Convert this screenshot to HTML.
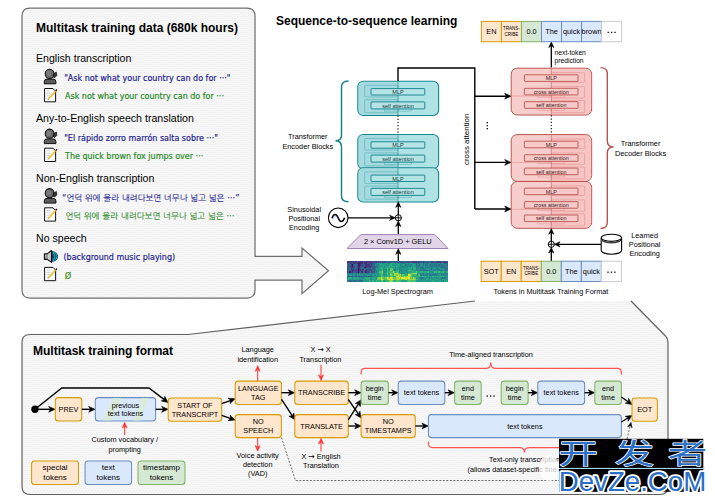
<!DOCTYPE html>
<html><head><meta charset="utf-8"><title>Whisper approach</title>
<style>html,body{margin:0;padding:0;background:#fff}svg{display:block}</style></head><body>
<svg width="715" height="503" viewBox="0 0 715 503">
<defs>
<pattern id="dots" width="3.2" height="4" patternUnits="userSpaceOnUse"><rect width="3.2" height="4" fill="#f7f7f7"/><rect x="0" y="0" width="1" height="1" fill="#ebebeb"/><rect x="1.6" y="2" width="1" height="1" fill="#ebebeb"/></pattern>
</defs>
<rect width="715" height="503" fill="#fff"/>
<path d="M30 8 H247 Q255 8 255 16 V256.3 H302 V248 L328.5 270.8 L302 293.6 V280 H255 V290 Q255 298 247 298 H30 Q22 298 22 290 V16 Q22 8 30 8 Z" fill="url(#dots)" stroke="#707070" stroke-width="1.25"/>
<text x="36.00" y="32.00" font-size="12" text-anchor="start" font-weight="bold" fill="#000" font-family="'Liberation Sans', Arial, sans-serif" >Multitask training data (680k hours)</text>
<text x="36.00" y="62.00" font-size="10.6" text-anchor="start" font-weight="normal" fill="#000" font-family="'Liberation Sans', Arial, sans-serif" >English transcription</text>
<text x="36.00" y="122.00" font-size="10.6" text-anchor="start" font-weight="normal" fill="#000" font-family="'Liberation Sans', Arial, sans-serif" >Any-to-English speech translation</text>
<text x="36.00" y="181.50" font-size="10.6" text-anchor="start" font-weight="normal" fill="#000" font-family="'Liberation Sans', Arial, sans-serif" >Non-English transcription</text>
<text x="36.00" y="242.00" font-size="10.6" text-anchor="start" font-weight="normal" fill="#000" font-family="'Liberation Sans', Arial, sans-serif" >No speech</text>
<text x="64.20" y="81.00" font-size="8" text-anchor="start" font-weight="normal" fill="#22228f" font-family="'DejaVu Sans', Verdana, sans-serif" stroke="#22228f" stroke-width="0.18">"Ask not what your country can do for ···"</text>
<text x="65.00" y="99.00" font-size="8" text-anchor="start" font-weight="normal" fill="#288a28" font-family="'DejaVu Sans', Verdana, sans-serif" stroke="#288a28" stroke-width="0.18">Ask not what your country can do for ···</text>
<text x="64.20" y="140.60" font-size="8" text-anchor="start" font-weight="normal" fill="#22228f" font-family="'DejaVu Sans', Verdana, sans-serif" stroke="#22228f" stroke-width="0.18">"El rápido zorro marrón salta sobre ···"</text>
<text x="65.00" y="158.80" font-size="8" text-anchor="start" font-weight="normal" fill="#288a28" font-family="'DejaVu Sans', Verdana, sans-serif" stroke="#288a28" stroke-width="0.18">The quick brown fox jumps over ···</text>
<text x="61.90" y="201.30" font-size="8.42" text-anchor="start" font-weight="normal" fill="#22228f" font-family="'DejaVu Sans', 'NanumGothic', 'Noto Sans CJK KR', sans-serif" stroke="#22228f" stroke-width="0.1">“언덕 위에 올라 내려다보면 너무나 넓고 넓은 ···”</text>
<text x="65.20" y="219.20" font-size="8.43" text-anchor="start" font-weight="normal" fill="#288a28" font-family="'DejaVu Sans', 'NanumGothic', 'Noto Sans CJK KR', sans-serif" stroke="#288a28" stroke-width="0.1">언덕 위에 올라 내려다보면 너무나 넓고 넓은 ···</text>
<text x="63.50" y="259.70" font-size="8" text-anchor="start" font-weight="normal" fill="#22228f" font-family="'DejaVu Sans', Verdana, sans-serif" stroke="#22228f" stroke-width="0.18">(background music playing)</text>
<text x="64.40" y="278.60" font-size="11.5" text-anchor="start" font-weight="normal" fill="#4a9a2a" font-family="'DejaVu Sans', Verdana, sans-serif" >ø</text>
<g transform="translate(44,69.2)"><path d="M0.3 14.6 V12.4 Q0.3 9.9 3 9.9 H9.2 Q11.9 9.9 11.9 12.4 V14.6 Z" fill="#5c5c5c" stroke="#111" stroke-width="1"/><ellipse cx="5.6" cy="4.7" rx="4.4" ry="4.6" fill="#666" stroke="#111" stroke-width="1.1"/><ellipse cx="4.6" cy="4.2" rx="2.4" ry="2.8" fill="#858585" opacity=".7"/><path d="M9.8 4.4 L12.4 3 L12.8 6.4 L10.6 8.6 L9 7.6 Z" fill="#333" stroke="#111" stroke-width="0.7"/></g>
<g transform="translate(44,129)"><path d="M0.3 14.6 V12.4 Q0.3 9.9 3 9.9 H9.2 Q11.9 9.9 11.9 12.4 V14.6 Z" fill="#5c5c5c" stroke="#111" stroke-width="1"/><ellipse cx="5.6" cy="4.7" rx="4.4" ry="4.6" fill="#666" stroke="#111" stroke-width="1.1"/><ellipse cx="4.6" cy="4.2" rx="2.4" ry="2.8" fill="#858585" opacity=".7"/><path d="M9.8 4.4 L12.4 3 L12.8 6.4 L10.6 8.6 L9 7.6 Z" fill="#333" stroke="#111" stroke-width="0.7"/></g>
<g transform="translate(44,188.5)"><path d="M0.3 14.6 V12.4 Q0.3 9.9 3 9.9 H9.2 Q11.9 9.9 11.9 12.4 V14.6 Z" fill="#5c5c5c" stroke="#111" stroke-width="1"/><ellipse cx="5.6" cy="4.7" rx="4.4" ry="4.6" fill="#666" stroke="#111" stroke-width="1.1"/><ellipse cx="4.6" cy="4.2" rx="2.4" ry="2.8" fill="#858585" opacity=".7"/><path d="M9.8 4.4 L12.4 3 L12.8 6.4 L10.6 8.6 L9 7.6 Z" fill="#333" stroke="#111" stroke-width="0.7"/></g>
<g transform="translate(44,87.6)"><path d="M0.6 0.9 H9 L11.6 3.6 V14.2 H0.6 Z" fill="#fff" stroke="#111" stroke-width="1"/><path d="M2.4 3.6 H6 M2.4 5.9 H7.4 M2.4 8.2 H6.2 M2.4 10.5 H4.8" stroke="#c4c4c4" stroke-width="0.7"/><path d="M4 11 L11.2 2.9 L12.2 3.8 L5 11.8 Z" fill="#f5c73a" stroke="#dba91a" stroke-width="0.4"/><path d="M11.2 2.9 L12.4 1.5 L13.5 2.5 L12.2 3.8 Z" fill="#222"/><path d="M4 11 L3.5 12.6 L5 11.8 Z" fill="#b58f58"/></g>
<g transform="translate(44,147.3)"><path d="M0.6 0.9 H9 L11.6 3.6 V14.2 H0.6 Z" fill="#fff" stroke="#111" stroke-width="1"/><path d="M2.4 3.6 H6 M2.4 5.9 H7.4 M2.4 8.2 H6.2 M2.4 10.5 H4.8" stroke="#c4c4c4" stroke-width="0.7"/><path d="M4 11 L11.2 2.9 L12.2 3.8 L5 11.8 Z" fill="#f5c73a" stroke="#dba91a" stroke-width="0.4"/><path d="M11.2 2.9 L12.4 1.5 L13.5 2.5 L12.2 3.8 Z" fill="#222"/><path d="M4 11 L3.5 12.6 L5 11.8 Z" fill="#b58f58"/></g>
<g transform="translate(44,206.9)"><path d="M0.6 0.9 H9 L11.6 3.6 V14.2 H0.6 Z" fill="#fff" stroke="#111" stroke-width="1"/><path d="M2.4 3.6 H6 M2.4 5.9 H7.4 M2.4 8.2 H6.2 M2.4 10.5 H4.8" stroke="#c4c4c4" stroke-width="0.7"/><path d="M4 11 L11.2 2.9 L12.2 3.8 L5 11.8 Z" fill="#f5c73a" stroke="#dba91a" stroke-width="0.4"/><path d="M11.2 2.9 L12.4 1.5 L13.5 2.5 L12.2 3.8 Z" fill="#222"/><path d="M4 11 L3.5 12.6 L5 11.8 Z" fill="#b58f58"/></g>
<g transform="translate(44,266.5)"><path d="M0.6 0.9 H9 L11.6 3.6 V14.2 H0.6 Z" fill="#fff" stroke="#111" stroke-width="1"/><path d="M2.4 3.6 H6 M2.4 5.9 H7.4 M2.4 8.2 H6.2 M2.4 10.5 H4.8" stroke="#c4c4c4" stroke-width="0.7"/><path d="M4 11 L11.2 2.9 L12.2 3.8 L5 11.8 Z" fill="#f5c73a" stroke="#dba91a" stroke-width="0.4"/><path d="M11.2 2.9 L12.4 1.5 L13.5 2.5 L12.2 3.8 Z" fill="#222"/><path d="M4 11 L3.5 12.6 L5 11.8 Z" fill="#b58f58"/></g>
<g transform="translate(44,250.2)"><path d="M7.9 0.9 A6.2 5.3 0 0 1 7.9 11.5 Z" fill="#0c4a5e"/><path d="M8.6 3.2 A2.4 3 0 0 1 8.6 9.2 M8.9 2 A4.1 4.2 0 0 1 8.9 10.4" fill="none" stroke="#35c8e4" stroke-width="0.8"/><path d="M0.4 3.5 H3.4 L7.5 0.3 V12.2 L3.4 9.2 H0.4 Z" fill="#9c9c9c" stroke="#111" stroke-width="1.1" stroke-linejoin="round"/><path d="M4 3.9 L6.7 1.9 V10.6 L4 8.8 Z" fill="#cdcdcd"/></g>
<text x="276.00" y="25.00" font-size="12" text-anchor="start" font-weight="bold" fill="#000" font-family="'Liberation Sans', Arial, sans-serif" >Sequence-to-sequence learning</text>
<path d="M398.00 81.00 L398.00 68.00 L474.80 68.00 L474.80 209.00" fill="none" stroke="#000" stroke-width="1.4" />
<path d="M474.80 96.20 L506.70 96.20" fill="none" stroke="#000" stroke-width="1.4" />
<path d="M511.00 96.20 L504.70 99.10 L506.50 96.20 L504.70 93.30 Z" fill="#000" stroke="#000" stroke-width="0.6" stroke-linejoin="miter"/>
<path d="M474.80 162.40 L506.70 162.40" fill="none" stroke="#000" stroke-width="1.4" />
<path d="M511.00 162.40 L504.70 165.30 L506.50 162.40 L504.70 159.50 Z" fill="#000" stroke="#000" stroke-width="0.6" stroke-linejoin="miter"/>
<path d="M474.80 209.00 L506.70 209.00" fill="none" stroke="#000" stroke-width="1.4" />
<path d="M511.00 209.00 L504.70 211.90 L506.50 209.00 L504.70 206.10 Z" fill="#000" stroke="#000" stroke-width="0.6" stroke-linejoin="miter"/>
<rect x="357.80" y="81.30" width="80.80" height="34.20" rx="5.5" ry="5.5" fill="#b0e3e6" stroke="#16868d" stroke-width="1.1" />
<path d="M398 81.80 H363.3 Q358.3 81.80 358.3 86.80 V110.00 Q358.3 115.00 363.3 115.00 H398 Z" fill="#9cd6da" opacity=".55"/>
<rect x="364.70" y="85.30" width="33.30" height="11.60" rx="0.5" ry="0.5" fill="none" stroke="#5fb4ba" stroke-width="0.7" />
<rect x="364.70" y="99.70" width="33.30" height="13.00" rx="0.5" ry="0.5" fill="none" stroke="#5fb4ba" stroke-width="0.7" />
<rect x="384.30" y="108.90" width="27.20" height="2.20" rx="0" ry="0" fill="none" stroke="#5fb4ba" stroke-width="0.6" />
<path d="M398.00 81.30 L398.00 115.50" fill="none" stroke="#3a9aa0" stroke-width="0.8" />
<rect x="371.00" y="88.60" width="53.80" height="6.40" rx="0.6" ry="0.6" fill="#b5e4e7" stroke="#0e8088" stroke-width="0.9" />
<rect x="371.00" y="101.90" width="53.80" height="7.00" rx="0.6" ry="0.6" fill="#b5e4e7" stroke="#0e8088" stroke-width="0.9" />
<text x="398.00" y="94.10" font-size="5.6" text-anchor="middle" font-weight="normal" fill="#1c3b3d" font-family="'Liberation Sans', Arial, sans-serif" >MLP</text>
<text x="398.00" y="107.60" font-size="5.6" text-anchor="middle" font-weight="normal" fill="#1c3b3d" font-family="'Liberation Sans', Arial, sans-serif" >self attention</text>
<rect x="357.80" y="134.50" width="80.80" height="34.20" rx="5.5" ry="5.5" fill="#b0e3e6" stroke="#16868d" stroke-width="1.1" />
<path d="M398 135.00 H363.3 Q358.3 135.00 358.3 140.00 V163.20 Q358.3 168.20 363.3 168.20 H398 Z" fill="#9cd6da" opacity=".55"/>
<rect x="364.70" y="138.50" width="33.30" height="11.60" rx="0.5" ry="0.5" fill="none" stroke="#5fb4ba" stroke-width="0.7" />
<rect x="364.70" y="152.90" width="33.30" height="13.00" rx="0.5" ry="0.5" fill="none" stroke="#5fb4ba" stroke-width="0.7" />
<rect x="384.30" y="162.10" width="27.20" height="2.20" rx="0" ry="0" fill="none" stroke="#5fb4ba" stroke-width="0.6" />
<path d="M398.00 134.50 L398.00 168.70" fill="none" stroke="#3a9aa0" stroke-width="0.8" />
<rect x="371.00" y="141.80" width="53.80" height="6.40" rx="0.6" ry="0.6" fill="#b5e4e7" stroke="#0e8088" stroke-width="0.9" />
<rect x="371.00" y="155.10" width="53.80" height="7.00" rx="0.6" ry="0.6" fill="#b5e4e7" stroke="#0e8088" stroke-width="0.9" />
<text x="398.00" y="147.30" font-size="5.6" text-anchor="middle" font-weight="normal" fill="#1c3b3d" font-family="'Liberation Sans', Arial, sans-serif" >MLP</text>
<text x="398.00" y="160.80" font-size="5.6" text-anchor="middle" font-weight="normal" fill="#1c3b3d" font-family="'Liberation Sans', Arial, sans-serif" >self attention</text>
<rect x="357.80" y="167.80" width="80.80" height="34.20" rx="5.5" ry="5.5" fill="#b0e3e6" stroke="#16868d" stroke-width="1.1" />
<path d="M398 168.30 H363.3 Q358.3 168.30 358.3 173.30 V196.50 Q358.3 201.50 363.3 201.50 H398 Z" fill="#9cd6da" opacity=".55"/>
<rect x="364.70" y="171.80" width="33.30" height="11.60" rx="0.5" ry="0.5" fill="none" stroke="#5fb4ba" stroke-width="0.7" />
<rect x="364.70" y="186.20" width="33.30" height="13.00" rx="0.5" ry="0.5" fill="none" stroke="#5fb4ba" stroke-width="0.7" />
<rect x="384.30" y="195.40" width="27.20" height="2.20" rx="0" ry="0" fill="none" stroke="#5fb4ba" stroke-width="0.6" />
<path d="M398.00 167.80 L398.00 202.00" fill="none" stroke="#3a9aa0" stroke-width="0.8" />
<rect x="371.00" y="175.10" width="53.80" height="6.40" rx="0.6" ry="0.6" fill="#b5e4e7" stroke="#0e8088" stroke-width="0.9" />
<rect x="371.00" y="188.40" width="53.80" height="7.00" rx="0.6" ry="0.6" fill="#b5e4e7" stroke="#0e8088" stroke-width="0.9" />
<text x="398.00" y="180.60" font-size="5.6" text-anchor="middle" font-weight="normal" fill="#1c3b3d" font-family="'Liberation Sans', Arial, sans-serif" >MLP</text>
<text x="398.00" y="194.10" font-size="5.6" text-anchor="middle" font-weight="normal" fill="#1c3b3d" font-family="'Liberation Sans', Arial, sans-serif" >self attention</text>
<path d="M398.00 115.50 L398.00 134.30" fill="none" stroke="#000" stroke-width="1.1" stroke-dasharray="1.2 2"/>
<path d="M348.5 81 Q341.5 81 341.5 87 V135 Q341.5 140.7 335.5 140.7 Q341.5 140.7 341.5 147 V196 Q341.5 201.8 348.5 201.8" fill="none" stroke="#0e8088" stroke-width="1.4"/>
<text x="307.80" y="139.40" font-size="7.3" text-anchor="middle" font-weight="normal" fill="#000" font-family="'Liberation Sans', Arial, sans-serif" >Transformer</text>
<text x="307.80" y="148.70" font-size="7.3" text-anchor="middle" font-weight="normal" fill="#000" font-family="'Liberation Sans', Arial, sans-serif" >Encoder Blocks</text>
<text x="304.20" y="212.00" font-size="7.3" text-anchor="middle" font-weight="normal" fill="#000" font-family="'Liberation Sans', Arial, sans-serif" >Sinusoidal</text>
<text x="304.20" y="221.00" font-size="7.3" text-anchor="middle" font-weight="normal" fill="#000" font-family="'Liberation Sans', Arial, sans-serif" >Positional</text>
<text x="304.20" y="229.60" font-size="7.3" text-anchor="middle" font-weight="normal" fill="#000" font-family="'Liberation Sans', Arial, sans-serif" >Encoding</text>
<circle cx="338.2" cy="217.8" r="9.8" fill="#fff" stroke="#000" stroke-width="1.1"/>
<path d="M332 218.2 C333.6 213.2 336.4 213.2 338.2 218 C340 222.8 342.8 222.8 344.6 217.8" fill="none" stroke="#000" stroke-width="1.5"/>
<path d="M333 219 C334.4 215.4 336.2 215.6 338.2 218.6" fill="none" stroke="#2a62d0" stroke-width="0.6" opacity=".6"/>
<path d="M348.00 217.80 L391.60 217.80" fill="none" stroke="#000" stroke-width="1.3" />
<path d="M395.20 217.80 L389.60 220.40 L391.40 217.80 L389.60 215.20 Z" fill="#000" stroke="#000" stroke-width="0.6" stroke-linejoin="miter"/>
<circle cx="398.3" cy="217.8" r="3.1" fill="#fff" stroke="#000" stroke-width="1"/><path d="M395.2 217.8 H401.4 M398.3 214.7 V220.9" stroke="#000" stroke-width="0.9"/>
<path d="M398.30 234.60 L398.30 224.60" fill="none" stroke="#000" stroke-width="1.3" />
<path d="M398.30 221.00 L400.90 226.60 L398.30 224.80 L395.70 226.60 Z" fill="#000" stroke="#000" stroke-width="0.6" stroke-linejoin="miter"/>
<path d="M398.30 214.70 L398.30 205.40" fill="none" stroke="#000" stroke-width="1.3" />
<path d="M398.30 201.80 L400.90 207.40 L398.30 205.60 L395.70 207.40 Z" fill="#000" stroke="#000" stroke-width="0.6" stroke-linejoin="miter"/>
<path d="M361 234.6 H434.8 L448 248.5 H347 Z" fill="#e1d5e7" stroke="#a680b8" stroke-width="1"/>
<text x="397.80" y="243.90" font-size="7.4" text-anchor="middle" font-weight="normal" fill="#000" font-family="'Liberation Sans', Arial, sans-serif" >2 × Conv1D + GELU</text>
<path d="M398.30 261.20 L398.30 252.40" fill="none" stroke="#000" stroke-width="1.3" />
<path d="M398.30 248.80 L400.90 254.40 L398.30 252.60 L395.70 254.40 Z" fill="#000" stroke="#000" stroke-width="0.6" stroke-linejoin="miter"/>
<g shape-rendering="crispEdges">
<rect x="347" y="261.1" width="101" height="20.6" fill="#2c6e8e"/>
<path d="M359.02 262.57h1.26v1.53h-1.26zM351.81 264.04h1.26v1.53h-1.26zM359.02 265.51h1.26v1.53h-1.26zM357.82 268.46h1.26v1.53h-1.26zM357.82 269.93h1.26v1.53h-1.26zM366.24 269.93h1.26v1.53h-1.26zM357.82 271.40h1.26v1.53h-1.26z" fill="rgb(68,10,92)"/>
<path d="M356.62 262.57h1.26v1.53h-1.26zM357.82 262.57h1.26v1.53h-1.26zM360.23 262.57h1.26v1.53h-1.26zM365.04 262.57h1.26v1.53h-1.26zM357.82 264.04h1.26v1.53h-1.26zM359.02 264.04h1.26v1.53h-1.26zM351.81 265.51h1.26v1.53h-1.26zM357.82 266.99h1.26v1.53h-1.26zM363.83 266.99h1.26v1.53h-1.26zM365.04 266.99h1.26v1.53h-1.26zM351.81 269.93h1.26v1.53h-1.26zM349.40 271.40h1.26v1.53h-1.26zM365.04 271.40h1.26v1.53h-1.26z" fill="rgb(69,28,108)"/>
<path d="M347.00 261.10h1.26v1.53h-1.26zM348.20 261.10h1.26v1.53h-1.26zM353.01 261.10h1.26v1.53h-1.26zM355.42 261.10h1.26v1.53h-1.26zM359.02 261.10h1.26v1.53h-1.26zM360.23 261.10h1.26v1.53h-1.26zM361.43 261.10h1.26v1.53h-1.26zM366.24 261.10h1.26v1.53h-1.26zM367.44 261.10h1.26v1.53h-1.26zM371.05 261.10h1.26v1.53h-1.26zM375.86 261.10h1.26v1.53h-1.26zM350.61 262.57h1.26v1.53h-1.26zM354.21 262.57h1.26v1.53h-1.26zM361.43 262.57h1.26v1.53h-1.26zM363.83 262.57h1.26v1.53h-1.26zM366.24 262.57h1.26v1.53h-1.26zM372.25 262.57h1.26v1.53h-1.26zM350.61 264.04h1.26v1.53h-1.26zM360.23 264.04h1.26v1.53h-1.26zM366.24 264.04h1.26v1.53h-1.26zM367.44 264.04h1.26v1.53h-1.26zM349.40 265.51h1.26v1.53h-1.26zM354.21 265.51h1.26v1.53h-1.26zM357.82 265.51h1.26v1.53h-1.26zM365.04 265.51h1.26v1.53h-1.26zM367.44 265.51h1.26v1.53h-1.26zM368.64 265.51h1.26v1.53h-1.26zM369.85 265.51h1.26v1.53h-1.26zM350.61 266.99h1.26v1.53h-1.26zM351.81 266.99h1.26v1.53h-1.26zM366.24 266.99h1.26v1.53h-1.26zM353.01 268.46h1.26v1.53h-1.26zM359.02 268.46h1.26v1.53h-1.26zM359.02 269.93h1.26v1.53h-1.26zM360.23 269.93h1.26v1.53h-1.26zM368.64 269.93h1.26v1.53h-1.26zM347.00 271.40h1.26v1.53h-1.26zM351.81 271.40h1.26v1.53h-1.26zM361.43 271.40h1.26v1.53h-1.26z" fill="rgb(70,46,123)"/>
<path d="M349.40 261.10h1.26v1.53h-1.26zM350.61 261.10h1.26v1.53h-1.26zM351.81 261.10h1.26v1.53h-1.26zM357.82 261.10h1.26v1.53h-1.26zM363.83 261.10h1.26v1.53h-1.26zM365.04 261.10h1.26v1.53h-1.26zM368.64 261.10h1.26v1.53h-1.26zM369.85 261.10h1.26v1.53h-1.26zM373.45 261.10h1.26v1.53h-1.26zM378.26 261.10h1.26v1.53h-1.26zM381.87 261.10h1.26v1.53h-1.26zM384.27 261.10h1.26v1.53h-1.26zM401.11 261.10h1.26v1.53h-1.26zM410.73 261.10h1.26v1.53h-1.26zM413.13 261.10h1.26v1.53h-1.26zM414.33 261.10h1.26v1.53h-1.26zM415.54 261.10h1.26v1.53h-1.26zM417.94 261.10h1.26v1.53h-1.26zM422.75 261.10h1.26v1.53h-1.26zM435.98 261.10h1.26v1.53h-1.26zM437.18 261.10h1.26v1.53h-1.26zM438.38 261.10h1.26v1.53h-1.26zM439.58 261.10h1.26v1.53h-1.26zM444.39 261.10h1.26v1.53h-1.26zM353.01 262.57h1.26v1.53h-1.26zM368.64 262.57h1.26v1.53h-1.26zM369.85 262.57h1.26v1.53h-1.26zM365.04 264.04h1.26v1.53h-1.26zM368.64 264.04h1.26v1.53h-1.26zM371.05 264.04h1.26v1.53h-1.26zM350.61 265.51h1.26v1.53h-1.26zM356.62 265.51h1.26v1.53h-1.26zM366.24 265.51h1.26v1.53h-1.26zM371.05 265.51h1.26v1.53h-1.26zM359.02 266.99h1.26v1.53h-1.26zM369.85 266.99h1.26v1.53h-1.26zM347.00 268.46h1.26v1.53h-1.26zM350.61 268.46h1.26v1.53h-1.26zM356.62 268.46h1.26v1.53h-1.26zM361.43 268.46h1.26v1.53h-1.26zM362.63 268.46h1.26v1.53h-1.26zM350.61 269.93h1.26v1.53h-1.26zM353.01 269.93h1.26v1.53h-1.26zM355.42 269.93h1.26v1.53h-1.26zM361.43 269.93h1.26v1.53h-1.26zM365.04 269.93h1.26v1.53h-1.26zM371.05 269.93h1.26v1.53h-1.26zM350.61 271.40h1.26v1.53h-1.26zM366.24 271.40h1.26v1.53h-1.26zM367.44 271.40h1.26v1.53h-1.26zM371.05 271.40h1.26v1.53h-1.26zM367.44 275.81h1.26v1.53h-1.26z" fill="rgb(64,63,131)"/>
<path d="M354.21 261.10h1.26v1.53h-1.26zM362.63 261.10h1.26v1.53h-1.26zM372.25 261.10h1.26v1.53h-1.26zM374.65 261.10h1.26v1.53h-1.26zM379.46 261.10h1.26v1.53h-1.26zM383.07 261.10h1.26v1.53h-1.26zM390.29 261.10h1.26v1.53h-1.26zM395.10 261.10h1.26v1.53h-1.26zM398.70 261.10h1.26v1.53h-1.26zM407.12 261.10h1.26v1.53h-1.26zM408.32 261.10h1.26v1.53h-1.26zM411.93 261.10h1.26v1.53h-1.26zM419.14 261.10h1.26v1.53h-1.26zM420.35 261.10h1.26v1.53h-1.26zM423.95 261.10h1.26v1.53h-1.26zM429.96 261.10h1.26v1.53h-1.26zM431.17 261.10h1.26v1.53h-1.26zM432.37 261.10h1.26v1.53h-1.26zM440.79 261.10h1.26v1.53h-1.26zM443.19 261.10h1.26v1.53h-1.26zM445.60 261.10h1.26v1.53h-1.26zM446.80 261.10h1.26v1.53h-1.26zM351.81 262.57h1.26v1.53h-1.26zM355.42 262.57h1.26v1.53h-1.26zM348.20 264.04h1.26v1.53h-1.26zM356.62 264.04h1.26v1.53h-1.26zM361.43 264.04h1.26v1.53h-1.26zM362.63 264.04h1.26v1.53h-1.26zM369.85 264.04h1.26v1.53h-1.26zM361.43 265.51h1.26v1.53h-1.26zM362.63 265.51h1.26v1.53h-1.26zM347.00 266.99h1.26v1.53h-1.26zM353.01 266.99h1.26v1.53h-1.26zM354.21 266.99h1.26v1.53h-1.26zM367.44 266.99h1.26v1.53h-1.26zM373.45 266.99h1.26v1.53h-1.26zM348.20 268.46h1.26v1.53h-1.26zM351.81 268.46h1.26v1.53h-1.26zM355.42 268.46h1.26v1.53h-1.26zM360.23 268.46h1.26v1.53h-1.26zM365.04 268.46h1.26v1.53h-1.26zM367.44 268.46h1.26v1.53h-1.26zM368.64 268.46h1.26v1.53h-1.26zM371.05 268.46h1.26v1.53h-1.26zM354.21 269.93h1.26v1.53h-1.26zM362.63 269.93h1.26v1.53h-1.26zM373.45 269.93h1.26v1.53h-1.26zM353.01 271.40h1.26v1.53h-1.26zM355.42 271.40h1.26v1.53h-1.26zM356.62 271.40h1.26v1.53h-1.26zM359.02 271.40h1.26v1.53h-1.26zM373.45 271.40h1.26v1.53h-1.26zM351.81 275.81h1.26v1.53h-1.26zM357.82 275.81h1.26v1.53h-1.26zM361.43 275.81h1.26v1.53h-1.26zM365.04 275.81h1.26v1.53h-1.26zM369.85 275.81h1.26v1.53h-1.26z" fill="rgb(59,81,139)"/>
<path d="M356.62 261.10h1.26v1.53h-1.26zM380.67 261.10h1.26v1.53h-1.26zM385.48 261.10h1.26v1.53h-1.26zM386.68 261.10h1.26v1.53h-1.26zM387.88 261.10h1.26v1.53h-1.26zM391.49 261.10h1.26v1.53h-1.26zM392.69 261.10h1.26v1.53h-1.26zM393.89 261.10h1.26v1.53h-1.26zM396.30 261.10h1.26v1.53h-1.26zM399.90 261.10h1.26v1.53h-1.26zM402.31 261.10h1.26v1.53h-1.26zM403.51 261.10h1.26v1.53h-1.26zM405.92 261.10h1.26v1.53h-1.26zM409.52 261.10h1.26v1.53h-1.26zM416.74 261.10h1.26v1.53h-1.26zM425.15 261.10h1.26v1.53h-1.26zM427.56 261.10h1.26v1.53h-1.26zM441.99 261.10h1.26v1.53h-1.26zM348.20 262.57h1.26v1.53h-1.26zM349.40 262.57h1.26v1.53h-1.26zM367.44 262.57h1.26v1.53h-1.26zM371.05 262.57h1.26v1.53h-1.26zM353.01 264.04h1.26v1.53h-1.26zM363.83 264.04h1.26v1.53h-1.26zM372.25 264.04h1.26v1.53h-1.26zM373.45 264.04h1.26v1.53h-1.26zM348.20 265.51h1.26v1.53h-1.26zM353.01 265.51h1.26v1.53h-1.26zM360.23 265.51h1.26v1.53h-1.26zM363.83 265.51h1.26v1.53h-1.26zM372.25 265.51h1.26v1.53h-1.26zM373.45 265.51h1.26v1.53h-1.26zM356.62 266.99h1.26v1.53h-1.26zM360.23 266.99h1.26v1.53h-1.26zM368.64 266.99h1.26v1.53h-1.26zM372.25 266.99h1.26v1.53h-1.26zM354.21 268.46h1.26v1.53h-1.26zM366.24 268.46h1.26v1.53h-1.26zM369.85 268.46h1.26v1.53h-1.26zM372.25 268.46h1.26v1.53h-1.26zM373.45 268.46h1.26v1.53h-1.26zM347.00 269.93h1.26v1.53h-1.26zM349.40 269.93h1.26v1.53h-1.26zM356.62 269.93h1.26v1.53h-1.26zM363.83 269.93h1.26v1.53h-1.26zM367.44 269.93h1.26v1.53h-1.26zM369.85 269.93h1.26v1.53h-1.26zM354.21 271.40h1.26v1.53h-1.26zM360.23 271.40h1.26v1.53h-1.26zM363.83 271.40h1.26v1.53h-1.26zM372.25 271.40h1.26v1.53h-1.26zM348.20 275.81h1.26v1.53h-1.26zM349.40 275.81h1.26v1.53h-1.26zM354.21 275.81h1.26v1.53h-1.26zM355.42 275.81h1.26v1.53h-1.26zM360.23 275.81h1.26v1.53h-1.26zM363.83 275.81h1.26v1.53h-1.26zM349.40 280.23h1.26v1.53h-1.26zM353.01 280.23h1.26v1.53h-1.26zM354.21 280.23h1.26v1.53h-1.26zM359.02 280.23h1.26v1.53h-1.26zM360.23 280.23h1.26v1.53h-1.26z" fill="rgb(52,94,140)"/>
<path d="M377.06 261.10h1.26v1.53h-1.26zM389.08 261.10h1.26v1.53h-1.26zM397.50 261.10h1.26v1.53h-1.26zM404.71 261.10h1.26v1.53h-1.26zM421.55 261.10h1.26v1.53h-1.26zM426.36 261.10h1.26v1.53h-1.26zM428.76 261.10h1.26v1.53h-1.26zM433.57 261.10h1.26v1.53h-1.26zM434.77 261.10h1.26v1.53h-1.26zM347.00 262.57h1.26v1.53h-1.26zM362.63 262.57h1.26v1.53h-1.26zM373.45 262.57h1.26v1.53h-1.26zM374.65 262.57h1.26v1.53h-1.26zM415.54 262.57h1.26v1.53h-1.26zM416.74 262.57h1.26v1.53h-1.26zM417.94 262.57h1.26v1.53h-1.26zM426.36 262.57h1.26v1.53h-1.26zM433.57 262.57h1.26v1.53h-1.26zM444.39 262.57h1.26v1.53h-1.26zM445.60 262.57h1.26v1.53h-1.26zM446.80 262.57h1.26v1.53h-1.26zM347.00 264.04h1.26v1.53h-1.26zM349.40 264.04h1.26v1.53h-1.26zM354.21 264.04h1.26v1.53h-1.26zM355.42 264.04h1.26v1.53h-1.26zM415.54 264.04h1.26v1.53h-1.26zM419.14 264.04h1.26v1.53h-1.26zM422.75 264.04h1.26v1.53h-1.26zM429.96 264.04h1.26v1.53h-1.26zM434.77 264.04h1.26v1.53h-1.26zM438.38 264.04h1.26v1.53h-1.26zM441.99 264.04h1.26v1.53h-1.26zM446.80 264.04h1.26v1.53h-1.26zM347.00 265.51h1.26v1.53h-1.26zM355.42 265.51h1.26v1.53h-1.26zM374.65 265.51h1.26v1.53h-1.26zM419.14 265.51h1.26v1.53h-1.26zM431.17 265.51h1.26v1.53h-1.26zM435.98 265.51h1.26v1.53h-1.26zM438.38 265.51h1.26v1.53h-1.26zM440.79 265.51h1.26v1.53h-1.26zM443.19 265.51h1.26v1.53h-1.26zM444.39 265.51h1.26v1.53h-1.26zM348.20 266.99h1.26v1.53h-1.26zM349.40 266.99h1.26v1.53h-1.26zM355.42 266.99h1.26v1.53h-1.26zM361.43 266.99h1.26v1.53h-1.26zM362.63 266.99h1.26v1.53h-1.26zM371.05 266.99h1.26v1.53h-1.26zM374.65 266.99h1.26v1.53h-1.26zM415.54 266.99h1.26v1.53h-1.26zM427.56 266.99h1.26v1.53h-1.26zM431.17 266.99h1.26v1.53h-1.26zM440.79 266.99h1.26v1.53h-1.26zM441.99 266.99h1.26v1.53h-1.26zM446.80 266.99h1.26v1.53h-1.26zM349.40 268.46h1.26v1.53h-1.26zM363.83 268.46h1.26v1.53h-1.26zM374.65 268.46h1.26v1.53h-1.26zM429.96 268.46h1.26v1.53h-1.26zM431.17 268.46h1.26v1.53h-1.26zM437.18 268.46h1.26v1.53h-1.26zM445.60 268.46h1.26v1.53h-1.26zM372.25 269.93h1.26v1.53h-1.26zM419.14 269.93h1.26v1.53h-1.26zM426.36 269.93h1.26v1.53h-1.26zM439.58 269.93h1.26v1.53h-1.26zM348.20 271.40h1.26v1.53h-1.26zM362.63 271.40h1.26v1.53h-1.26zM368.64 271.40h1.26v1.53h-1.26zM369.85 271.40h1.26v1.53h-1.26zM427.56 272.87h1.26v1.53h-1.26zM347.00 275.81h1.26v1.53h-1.26zM350.61 275.81h1.26v1.53h-1.26zM353.01 275.81h1.26v1.53h-1.26zM356.62 275.81h1.26v1.53h-1.26zM359.02 275.81h1.26v1.53h-1.26zM362.63 275.81h1.26v1.53h-1.26zM366.24 275.81h1.26v1.53h-1.26zM368.64 275.81h1.26v1.53h-1.26zM371.05 275.81h1.26v1.53h-1.26zM350.61 280.23h1.26v1.53h-1.26zM355.42 280.23h1.26v1.53h-1.26zM361.43 280.23h1.26v1.53h-1.26z" fill="rgb(46,108,141)"/>
<path d="M401.11 262.57h1.26v1.53h-1.26zM402.31 262.57h1.26v1.53h-1.26zM403.51 262.57h1.26v1.53h-1.26zM404.71 262.57h1.26v1.53h-1.26zM422.75 262.57h1.26v1.53h-1.26zM432.37 262.57h1.26v1.53h-1.26zM435.98 262.57h1.26v1.53h-1.26zM439.58 262.57h1.26v1.53h-1.26zM440.79 262.57h1.26v1.53h-1.26zM377.06 264.04h1.26v1.53h-1.26zM399.90 264.04h1.26v1.53h-1.26zM404.71 264.04h1.26v1.53h-1.26zM405.92 264.04h1.26v1.53h-1.26zM410.73 264.04h1.26v1.53h-1.26zM425.15 264.04h1.26v1.53h-1.26zM426.36 264.04h1.26v1.53h-1.26zM431.17 264.04h1.26v1.53h-1.26zM432.37 264.04h1.26v1.53h-1.26zM433.57 264.04h1.26v1.53h-1.26zM435.98 264.04h1.26v1.53h-1.26zM439.58 264.04h1.26v1.53h-1.26zM440.79 264.04h1.26v1.53h-1.26zM443.19 264.04h1.26v1.53h-1.26zM445.60 264.04h1.26v1.53h-1.26zM375.86 265.51h1.26v1.53h-1.26zM377.06 265.51h1.26v1.53h-1.26zM384.27 265.51h1.26v1.53h-1.26zM402.31 265.51h1.26v1.53h-1.26zM403.51 265.51h1.26v1.53h-1.26zM404.71 265.51h1.26v1.53h-1.26zM415.54 265.51h1.26v1.53h-1.26zM416.74 265.51h1.26v1.53h-1.26zM417.94 265.51h1.26v1.53h-1.26zM420.35 265.51h1.26v1.53h-1.26zM421.55 265.51h1.26v1.53h-1.26zM426.36 265.51h1.26v1.53h-1.26zM428.76 265.51h1.26v1.53h-1.26zM429.96 265.51h1.26v1.53h-1.26zM432.37 265.51h1.26v1.53h-1.26zM433.57 265.51h1.26v1.53h-1.26zM434.77 265.51h1.26v1.53h-1.26zM437.18 265.51h1.26v1.53h-1.26zM439.58 265.51h1.26v1.53h-1.26zM441.99 265.51h1.26v1.53h-1.26zM445.60 265.51h1.26v1.53h-1.26zM446.80 265.51h1.26v1.53h-1.26zM375.86 266.99h1.26v1.53h-1.26zM416.74 266.99h1.26v1.53h-1.26zM420.35 266.99h1.26v1.53h-1.26zM421.55 266.99h1.26v1.53h-1.26zM422.75 266.99h1.26v1.53h-1.26zM425.15 266.99h1.26v1.53h-1.26zM437.18 266.99h1.26v1.53h-1.26zM439.58 266.99h1.26v1.53h-1.26zM443.19 266.99h1.26v1.53h-1.26zM444.39 266.99h1.26v1.53h-1.26zM445.60 266.99h1.26v1.53h-1.26zM415.54 268.46h1.26v1.53h-1.26zM420.35 268.46h1.26v1.53h-1.26zM421.55 268.46h1.26v1.53h-1.26zM422.75 268.46h1.26v1.53h-1.26zM423.95 268.46h1.26v1.53h-1.26zM425.15 268.46h1.26v1.53h-1.26zM438.38 268.46h1.26v1.53h-1.26zM444.39 268.46h1.26v1.53h-1.26zM446.80 268.46h1.26v1.53h-1.26zM348.20 269.93h1.26v1.53h-1.26zM374.65 269.93h1.26v1.53h-1.26zM375.86 269.93h1.26v1.53h-1.26zM404.71 269.93h1.26v1.53h-1.26zM415.54 269.93h1.26v1.53h-1.26zM421.55 269.93h1.26v1.53h-1.26zM422.75 269.93h1.26v1.53h-1.26zM423.95 269.93h1.26v1.53h-1.26zM425.15 269.93h1.26v1.53h-1.26zM427.56 269.93h1.26v1.53h-1.26zM428.76 269.93h1.26v1.53h-1.26zM431.17 269.93h1.26v1.53h-1.26zM433.57 269.93h1.26v1.53h-1.26zM434.77 269.93h1.26v1.53h-1.26zM441.99 269.93h1.26v1.53h-1.26zM444.39 269.93h1.26v1.53h-1.26zM445.60 269.93h1.26v1.53h-1.26zM374.65 271.40h1.26v1.53h-1.26zM375.86 271.40h1.26v1.53h-1.26zM349.40 272.87h1.26v1.53h-1.26zM356.62 272.87h1.26v1.53h-1.26zM360.23 272.87h1.26v1.53h-1.26zM366.24 272.87h1.26v1.53h-1.26zM367.44 272.87h1.26v1.53h-1.26zM372.25 272.87h1.26v1.53h-1.26zM421.55 272.87h1.26v1.53h-1.26zM422.75 272.87h1.26v1.53h-1.26zM434.77 272.87h1.26v1.53h-1.26zM437.18 272.87h1.26v1.53h-1.26zM441.99 272.87h1.26v1.53h-1.26zM443.19 272.87h1.26v1.53h-1.26zM347.00 274.34h1.26v1.53h-1.26zM351.81 274.34h1.26v1.53h-1.26zM355.42 274.34h1.26v1.53h-1.26zM357.82 274.34h1.26v1.53h-1.26zM371.05 274.34h1.26v1.53h-1.26zM420.35 274.34h1.26v1.53h-1.26zM422.75 274.34h1.26v1.53h-1.26zM425.15 274.34h1.26v1.53h-1.26zM428.76 274.34h1.26v1.53h-1.26zM429.96 274.34h1.26v1.53h-1.26zM432.37 274.34h1.26v1.53h-1.26zM433.57 274.34h1.26v1.53h-1.26zM434.77 274.34h1.26v1.53h-1.26zM435.98 274.34h1.26v1.53h-1.26zM440.79 274.34h1.26v1.53h-1.26zM443.19 274.34h1.26v1.53h-1.26zM420.35 277.29h1.26v1.53h-1.26zM421.55 277.29h1.26v1.53h-1.26zM422.75 277.29h1.26v1.53h-1.26zM428.76 277.29h1.26v1.53h-1.26zM435.98 277.29h1.26v1.53h-1.26zM440.79 277.29h1.26v1.53h-1.26zM441.99 277.29h1.26v1.53h-1.26zM443.19 277.29h1.26v1.53h-1.26zM444.39 277.29h1.26v1.53h-1.26zM347.00 280.23h1.26v1.53h-1.26zM348.20 280.23h1.26v1.53h-1.26zM356.62 280.23h1.26v1.53h-1.26zM357.82 280.23h1.26v1.53h-1.26z" fill="rgb(40,122,141)"/>
<path d="M375.86 262.57h1.26v1.53h-1.26zM383.07 262.57h1.26v1.53h-1.26zM387.88 262.57h1.26v1.53h-1.26zM389.08 262.57h1.26v1.53h-1.26zM397.50 262.57h1.26v1.53h-1.26zM398.70 262.57h1.26v1.53h-1.26zM399.90 262.57h1.26v1.53h-1.26zM413.13 262.57h1.26v1.53h-1.26zM414.33 262.57h1.26v1.53h-1.26zM419.14 262.57h1.26v1.53h-1.26zM421.55 262.57h1.26v1.53h-1.26zM423.95 262.57h1.26v1.53h-1.26zM425.15 262.57h1.26v1.53h-1.26zM427.56 262.57h1.26v1.53h-1.26zM429.96 262.57h1.26v1.53h-1.26zM431.17 262.57h1.26v1.53h-1.26zM434.77 262.57h1.26v1.53h-1.26zM437.18 262.57h1.26v1.53h-1.26zM443.19 262.57h1.26v1.53h-1.26zM374.65 264.04h1.26v1.53h-1.26zM375.86 264.04h1.26v1.53h-1.26zM378.26 264.04h1.26v1.53h-1.26zM385.48 264.04h1.26v1.53h-1.26zM393.89 264.04h1.26v1.53h-1.26zM401.11 264.04h1.26v1.53h-1.26zM407.12 264.04h1.26v1.53h-1.26zM408.32 264.04h1.26v1.53h-1.26zM409.52 264.04h1.26v1.53h-1.26zM416.74 264.04h1.26v1.53h-1.26zM417.94 264.04h1.26v1.53h-1.26zM428.76 264.04h1.26v1.53h-1.26zM437.18 264.04h1.26v1.53h-1.26zM444.39 264.04h1.26v1.53h-1.26zM395.10 265.51h1.26v1.53h-1.26zM399.90 265.51h1.26v1.53h-1.26zM401.11 265.51h1.26v1.53h-1.26zM407.12 265.51h1.26v1.53h-1.26zM408.32 265.51h1.26v1.53h-1.26zM409.52 265.51h1.26v1.53h-1.26zM425.15 265.51h1.26v1.53h-1.26zM378.26 266.99h1.26v1.53h-1.26zM395.10 266.99h1.26v1.53h-1.26zM397.50 266.99h1.26v1.53h-1.26zM398.70 266.99h1.26v1.53h-1.26zM399.90 266.99h1.26v1.53h-1.26zM404.71 266.99h1.26v1.53h-1.26zM411.93 266.99h1.26v1.53h-1.26zM426.36 266.99h1.26v1.53h-1.26zM428.76 266.99h1.26v1.53h-1.26zM433.57 266.99h1.26v1.53h-1.26zM435.98 266.99h1.26v1.53h-1.26zM377.06 268.46h1.26v1.53h-1.26zM384.27 268.46h1.26v1.53h-1.26zM385.48 268.46h1.26v1.53h-1.26zM393.89 268.46h1.26v1.53h-1.26zM395.10 268.46h1.26v1.53h-1.26zM398.70 268.46h1.26v1.53h-1.26zM399.90 268.46h1.26v1.53h-1.26zM401.11 268.46h1.26v1.53h-1.26zM411.93 268.46h1.26v1.53h-1.26zM416.74 268.46h1.26v1.53h-1.26zM417.94 268.46h1.26v1.53h-1.26zM432.37 268.46h1.26v1.53h-1.26zM434.77 268.46h1.26v1.53h-1.26zM435.98 268.46h1.26v1.53h-1.26zM393.89 269.93h1.26v1.53h-1.26zM398.70 269.93h1.26v1.53h-1.26zM401.11 269.93h1.26v1.53h-1.26zM403.51 269.93h1.26v1.53h-1.26zM405.92 269.93h1.26v1.53h-1.26zM420.35 269.93h1.26v1.53h-1.26zM438.38 269.93h1.26v1.53h-1.26zM440.79 269.93h1.26v1.53h-1.26zM384.27 271.40h1.26v1.53h-1.26zM398.70 271.40h1.26v1.53h-1.26zM401.11 271.40h1.26v1.53h-1.26zM405.92 271.40h1.26v1.53h-1.26zM347.00 272.87h1.26v1.53h-1.26zM348.20 272.87h1.26v1.53h-1.26zM350.61 272.87h1.26v1.53h-1.26zM351.81 272.87h1.26v1.53h-1.26zM355.42 272.87h1.26v1.53h-1.26zM357.82 272.87h1.26v1.53h-1.26zM361.43 272.87h1.26v1.53h-1.26zM362.63 272.87h1.26v1.53h-1.26zM368.64 272.87h1.26v1.53h-1.26zM373.45 272.87h1.26v1.53h-1.26zM401.11 272.87h1.26v1.53h-1.26zM402.31 272.87h1.26v1.53h-1.26zM426.36 272.87h1.26v1.53h-1.26zM429.96 272.87h1.26v1.53h-1.26zM432.37 272.87h1.26v1.53h-1.26zM438.38 272.87h1.26v1.53h-1.26zM444.39 272.87h1.26v1.53h-1.26zM445.60 272.87h1.26v1.53h-1.26zM446.80 272.87h1.26v1.53h-1.26zM348.20 274.34h1.26v1.53h-1.26zM362.63 274.34h1.26v1.53h-1.26zM363.83 274.34h1.26v1.53h-1.26zM366.24 274.34h1.26v1.53h-1.26zM368.64 274.34h1.26v1.53h-1.26zM369.85 274.34h1.26v1.53h-1.26zM374.65 274.34h1.26v1.53h-1.26zM426.36 274.34h1.26v1.53h-1.26zM431.17 274.34h1.26v1.53h-1.26zM444.39 274.34h1.26v1.53h-1.26zM445.60 274.34h1.26v1.53h-1.26zM446.80 274.34h1.26v1.53h-1.26zM372.25 275.81h1.26v1.53h-1.26zM373.45 275.81h1.26v1.53h-1.26zM375.86 275.81h1.26v1.53h-1.26zM377.06 275.81h1.26v1.53h-1.26zM378.26 275.81h1.26v1.53h-1.26zM347.00 277.29h1.26v1.53h-1.26zM351.81 277.29h1.26v1.53h-1.26zM362.63 277.29h1.26v1.53h-1.26zM419.14 277.29h1.26v1.53h-1.26zM431.17 277.29h1.26v1.53h-1.26zM359.02 278.76h1.26v1.53h-1.26zM371.05 278.76h1.26v1.53h-1.26zM420.35 278.76h1.26v1.53h-1.26zM422.75 278.76h1.26v1.53h-1.26zM440.79 278.76h1.26v1.53h-1.26zM351.81 280.23h1.26v1.53h-1.26zM419.14 280.23h1.26v1.53h-1.26zM440.79 280.23h1.26v1.53h-1.26zM443.19 280.23h1.26v1.53h-1.26z" fill="rgb(35,136,141)"/>
<path d="M378.26 262.57h1.26v1.53h-1.26zM379.46 262.57h1.26v1.53h-1.26zM380.67 262.57h1.26v1.53h-1.26zM381.87 262.57h1.26v1.53h-1.26zM384.27 262.57h1.26v1.53h-1.26zM385.48 262.57h1.26v1.53h-1.26zM393.89 262.57h1.26v1.53h-1.26zM395.10 262.57h1.26v1.53h-1.26zM405.92 262.57h1.26v1.53h-1.26zM408.32 262.57h1.26v1.53h-1.26zM420.35 262.57h1.26v1.53h-1.26zM428.76 262.57h1.26v1.53h-1.26zM438.38 262.57h1.26v1.53h-1.26zM441.99 262.57h1.26v1.53h-1.26zM387.88 264.04h1.26v1.53h-1.26zM389.08 264.04h1.26v1.53h-1.26zM392.69 264.04h1.26v1.53h-1.26zM403.51 264.04h1.26v1.53h-1.26zM411.93 264.04h1.26v1.53h-1.26zM420.35 264.04h1.26v1.53h-1.26zM421.55 264.04h1.26v1.53h-1.26zM423.95 264.04h1.26v1.53h-1.26zM427.56 264.04h1.26v1.53h-1.26zM378.26 265.51h1.26v1.53h-1.26zM379.46 265.51h1.26v1.53h-1.26zM380.67 265.51h1.26v1.53h-1.26zM387.88 265.51h1.26v1.53h-1.26zM398.70 265.51h1.26v1.53h-1.26zM405.92 265.51h1.26v1.53h-1.26zM414.33 265.51h1.26v1.53h-1.26zM422.75 265.51h1.26v1.53h-1.26zM423.95 265.51h1.26v1.53h-1.26zM427.56 265.51h1.26v1.53h-1.26zM377.06 266.99h1.26v1.53h-1.26zM383.07 266.99h1.26v1.53h-1.26zM384.27 266.99h1.26v1.53h-1.26zM392.69 266.99h1.26v1.53h-1.26zM401.11 266.99h1.26v1.53h-1.26zM402.31 266.99h1.26v1.53h-1.26zM403.51 266.99h1.26v1.53h-1.26zM405.92 266.99h1.26v1.53h-1.26zM407.12 266.99h1.26v1.53h-1.26zM409.52 266.99h1.26v1.53h-1.26zM417.94 266.99h1.26v1.53h-1.26zM419.14 266.99h1.26v1.53h-1.26zM423.95 266.99h1.26v1.53h-1.26zM429.96 266.99h1.26v1.53h-1.26zM432.37 266.99h1.26v1.53h-1.26zM434.77 266.99h1.26v1.53h-1.26zM438.38 266.99h1.26v1.53h-1.26zM378.26 268.46h1.26v1.53h-1.26zM379.46 268.46h1.26v1.53h-1.26zM383.07 268.46h1.26v1.53h-1.26zM389.08 268.46h1.26v1.53h-1.26zM396.30 268.46h1.26v1.53h-1.26zM402.31 268.46h1.26v1.53h-1.26zM405.92 268.46h1.26v1.53h-1.26zM407.12 268.46h1.26v1.53h-1.26zM410.73 268.46h1.26v1.53h-1.26zM413.13 268.46h1.26v1.53h-1.26zM419.14 268.46h1.26v1.53h-1.26zM426.36 268.46h1.26v1.53h-1.26zM427.56 268.46h1.26v1.53h-1.26zM428.76 268.46h1.26v1.53h-1.26zM433.57 268.46h1.26v1.53h-1.26zM439.58 268.46h1.26v1.53h-1.26zM440.79 268.46h1.26v1.53h-1.26zM441.99 268.46h1.26v1.53h-1.26zM443.19 268.46h1.26v1.53h-1.26zM383.07 269.93h1.26v1.53h-1.26zM385.48 269.93h1.26v1.53h-1.26zM395.10 269.93h1.26v1.53h-1.26zM399.90 269.93h1.26v1.53h-1.26zM407.12 269.93h1.26v1.53h-1.26zM416.74 269.93h1.26v1.53h-1.26zM417.94 269.93h1.26v1.53h-1.26zM429.96 269.93h1.26v1.53h-1.26zM432.37 269.93h1.26v1.53h-1.26zM435.98 269.93h1.26v1.53h-1.26zM437.18 269.93h1.26v1.53h-1.26zM443.19 269.93h1.26v1.53h-1.26zM446.80 269.93h1.26v1.53h-1.26zM377.06 271.40h1.26v1.53h-1.26zM378.26 271.40h1.26v1.53h-1.26zM383.07 271.40h1.26v1.53h-1.26zM385.48 271.40h1.26v1.53h-1.26zM402.31 271.40h1.26v1.53h-1.26zM403.51 271.40h1.26v1.53h-1.26zM407.12 271.40h1.26v1.53h-1.26zM417.94 271.40h1.26v1.53h-1.26zM422.75 271.40h1.26v1.53h-1.26zM428.76 271.40h1.26v1.53h-1.26zM431.17 271.40h1.26v1.53h-1.26zM432.37 271.40h1.26v1.53h-1.26zM444.39 271.40h1.26v1.53h-1.26zM353.01 272.87h1.26v1.53h-1.26zM354.21 272.87h1.26v1.53h-1.26zM359.02 272.87h1.26v1.53h-1.26zM363.83 272.87h1.26v1.53h-1.26zM365.04 272.87h1.26v1.53h-1.26zM369.85 272.87h1.26v1.53h-1.26zM371.05 272.87h1.26v1.53h-1.26zM375.86 272.87h1.26v1.53h-1.26zM377.06 272.87h1.26v1.53h-1.26zM378.26 272.87h1.26v1.53h-1.26zM384.27 272.87h1.26v1.53h-1.26zM403.51 272.87h1.26v1.53h-1.26zM407.12 272.87h1.26v1.53h-1.26zM417.94 272.87h1.26v1.53h-1.26zM419.14 272.87h1.26v1.53h-1.26zM420.35 272.87h1.26v1.53h-1.26zM423.95 272.87h1.26v1.53h-1.26zM425.15 272.87h1.26v1.53h-1.26zM428.76 272.87h1.26v1.53h-1.26zM431.17 272.87h1.26v1.53h-1.26zM433.57 272.87h1.26v1.53h-1.26zM435.98 272.87h1.26v1.53h-1.26zM439.58 272.87h1.26v1.53h-1.26zM440.79 272.87h1.26v1.53h-1.26zM349.40 274.34h1.26v1.53h-1.26zM353.01 274.34h1.26v1.53h-1.26zM354.21 274.34h1.26v1.53h-1.26zM359.02 274.34h1.26v1.53h-1.26zM360.23 274.34h1.26v1.53h-1.26zM361.43 274.34h1.26v1.53h-1.26zM365.04 274.34h1.26v1.53h-1.26zM367.44 274.34h1.26v1.53h-1.26zM372.25 274.34h1.26v1.53h-1.26zM373.45 274.34h1.26v1.53h-1.26zM378.26 274.34h1.26v1.53h-1.26zM383.07 274.34h1.26v1.53h-1.26zM384.27 274.34h1.26v1.53h-1.26zM385.48 274.34h1.26v1.53h-1.26zM416.74 274.34h1.26v1.53h-1.26zM421.55 274.34h1.26v1.53h-1.26zM423.95 274.34h1.26v1.53h-1.26zM427.56 274.34h1.26v1.53h-1.26zM437.18 274.34h1.26v1.53h-1.26zM438.38 274.34h1.26v1.53h-1.26zM439.58 274.34h1.26v1.53h-1.26zM441.99 274.34h1.26v1.53h-1.26zM374.65 275.81h1.26v1.53h-1.26zM385.48 275.81h1.26v1.53h-1.26zM414.33 275.81h1.26v1.53h-1.26zM426.36 275.81h1.26v1.53h-1.26zM431.17 275.81h1.26v1.53h-1.26zM433.57 275.81h1.26v1.53h-1.26zM359.02 277.29h1.26v1.53h-1.26zM360.23 277.29h1.26v1.53h-1.26zM361.43 277.29h1.26v1.53h-1.26zM363.83 277.29h1.26v1.53h-1.26zM369.85 277.29h1.26v1.53h-1.26zM375.86 277.29h1.26v1.53h-1.26zM423.95 277.29h1.26v1.53h-1.26zM425.15 277.29h1.26v1.53h-1.26zM426.36 277.29h1.26v1.53h-1.26zM427.56 277.29h1.26v1.53h-1.26zM429.96 277.29h1.26v1.53h-1.26zM432.37 277.29h1.26v1.53h-1.26zM433.57 277.29h1.26v1.53h-1.26zM437.18 277.29h1.26v1.53h-1.26zM445.60 277.29h1.26v1.53h-1.26zM446.80 277.29h1.26v1.53h-1.26zM350.61 278.76h1.26v1.53h-1.26zM351.81 278.76h1.26v1.53h-1.26zM353.01 278.76h1.26v1.53h-1.26zM355.42 278.76h1.26v1.53h-1.26zM356.62 278.76h1.26v1.53h-1.26zM360.23 278.76h1.26v1.53h-1.26zM361.43 278.76h1.26v1.53h-1.26zM365.04 278.76h1.26v1.53h-1.26zM375.86 278.76h1.26v1.53h-1.26zM417.94 278.76h1.26v1.53h-1.26zM423.95 278.76h1.26v1.53h-1.26zM425.15 278.76h1.26v1.53h-1.26zM428.76 278.76h1.26v1.53h-1.26zM431.17 278.76h1.26v1.53h-1.26zM432.37 278.76h1.26v1.53h-1.26zM438.38 278.76h1.26v1.53h-1.26zM439.58 278.76h1.26v1.53h-1.26zM445.60 278.76h1.26v1.53h-1.26zM446.80 278.76h1.26v1.53h-1.26zM365.04 280.23h1.26v1.53h-1.26zM367.44 280.23h1.26v1.53h-1.26zM371.05 280.23h1.26v1.53h-1.26zM373.45 280.23h1.26v1.53h-1.26zM384.27 280.23h1.26v1.53h-1.26zM416.74 280.23h1.26v1.53h-1.26zM420.35 280.23h1.26v1.53h-1.26zM425.15 280.23h1.26v1.53h-1.26zM426.36 280.23h1.26v1.53h-1.26zM427.56 280.23h1.26v1.53h-1.26zM429.96 280.23h1.26v1.53h-1.26zM433.57 280.23h1.26v1.53h-1.26zM437.18 280.23h1.26v1.53h-1.26z" fill="rgb(34,150,138)"/>
<path d="M377.06 262.57h1.26v1.53h-1.26zM386.68 262.57h1.26v1.53h-1.26zM392.69 262.57h1.26v1.53h-1.26zM396.30 262.57h1.26v1.53h-1.26zM407.12 262.57h1.26v1.53h-1.26zM409.52 262.57h1.26v1.53h-1.26zM410.73 262.57h1.26v1.53h-1.26zM411.93 262.57h1.26v1.53h-1.26zM379.46 264.04h1.26v1.53h-1.26zM380.67 264.04h1.26v1.53h-1.26zM381.87 264.04h1.26v1.53h-1.26zM383.07 264.04h1.26v1.53h-1.26zM384.27 264.04h1.26v1.53h-1.26zM386.68 264.04h1.26v1.53h-1.26zM391.49 264.04h1.26v1.53h-1.26zM395.10 264.04h1.26v1.53h-1.26zM396.30 264.04h1.26v1.53h-1.26zM398.70 264.04h1.26v1.53h-1.26zM402.31 264.04h1.26v1.53h-1.26zM413.13 264.04h1.26v1.53h-1.26zM414.33 264.04h1.26v1.53h-1.26zM381.87 265.51h1.26v1.53h-1.26zM385.48 265.51h1.26v1.53h-1.26zM386.68 265.51h1.26v1.53h-1.26zM390.29 265.51h1.26v1.53h-1.26zM392.69 265.51h1.26v1.53h-1.26zM393.89 265.51h1.26v1.53h-1.26zM397.50 265.51h1.26v1.53h-1.26zM410.73 265.51h1.26v1.53h-1.26zM411.93 265.51h1.26v1.53h-1.26zM413.13 265.51h1.26v1.53h-1.26zM379.46 266.99h1.26v1.53h-1.26zM385.48 266.99h1.26v1.53h-1.26zM387.88 266.99h1.26v1.53h-1.26zM389.08 266.99h1.26v1.53h-1.26zM390.29 266.99h1.26v1.53h-1.26zM391.49 266.99h1.26v1.53h-1.26zM393.89 266.99h1.26v1.53h-1.26zM396.30 266.99h1.26v1.53h-1.26zM408.32 266.99h1.26v1.53h-1.26zM375.86 268.46h1.26v1.53h-1.26zM387.88 268.46h1.26v1.53h-1.26zM392.69 268.46h1.26v1.53h-1.26zM397.50 268.46h1.26v1.53h-1.26zM403.51 268.46h1.26v1.53h-1.26zM404.71 268.46h1.26v1.53h-1.26zM408.32 268.46h1.26v1.53h-1.26zM409.52 268.46h1.26v1.53h-1.26zM377.06 269.93h1.26v1.53h-1.26zM378.26 269.93h1.26v1.53h-1.26zM379.46 269.93h1.26v1.53h-1.26zM384.27 269.93h1.26v1.53h-1.26zM386.68 269.93h1.26v1.53h-1.26zM389.08 269.93h1.26v1.53h-1.26zM392.69 269.93h1.26v1.53h-1.26zM402.31 269.93h1.26v1.53h-1.26zM414.33 269.93h1.26v1.53h-1.26zM399.90 271.40h1.26v1.53h-1.26zM404.71 271.40h1.26v1.53h-1.26zM408.32 271.40h1.26v1.53h-1.26zM409.52 271.40h1.26v1.53h-1.26zM423.95 271.40h1.26v1.53h-1.26zM429.96 271.40h1.26v1.53h-1.26zM437.18 271.40h1.26v1.53h-1.26zM439.58 271.40h1.26v1.53h-1.26zM440.79 271.40h1.26v1.53h-1.26zM374.65 272.87h1.26v1.53h-1.26zM383.07 272.87h1.26v1.53h-1.26zM389.08 272.87h1.26v1.53h-1.26zM399.90 272.87h1.26v1.53h-1.26zM404.71 272.87h1.26v1.53h-1.26zM416.74 272.87h1.26v1.53h-1.26zM350.61 274.34h1.26v1.53h-1.26zM356.62 274.34h1.26v1.53h-1.26zM375.86 274.34h1.26v1.53h-1.26zM377.06 274.34h1.26v1.53h-1.26zM379.46 274.34h1.26v1.53h-1.26zM389.08 274.34h1.26v1.53h-1.26zM379.46 275.81h1.26v1.53h-1.26zM389.08 275.81h1.26v1.53h-1.26zM392.69 275.81h1.26v1.53h-1.26zM393.89 275.81h1.26v1.53h-1.26zM411.93 275.81h1.26v1.53h-1.26zM420.35 275.81h1.26v1.53h-1.26zM423.95 275.81h1.26v1.53h-1.26zM428.76 275.81h1.26v1.53h-1.26zM429.96 275.81h1.26v1.53h-1.26zM437.18 275.81h1.26v1.53h-1.26zM438.38 275.81h1.26v1.53h-1.26zM444.39 275.81h1.26v1.53h-1.26zM445.60 275.81h1.26v1.53h-1.26zM446.80 275.81h1.26v1.53h-1.26zM355.42 277.29h1.26v1.53h-1.26zM357.82 277.29h1.26v1.53h-1.26zM371.05 277.29h1.26v1.53h-1.26zM372.25 277.29h1.26v1.53h-1.26zM374.65 277.29h1.26v1.53h-1.26zM415.54 277.29h1.26v1.53h-1.26zM416.74 277.29h1.26v1.53h-1.26zM417.94 277.29h1.26v1.53h-1.26zM434.77 277.29h1.26v1.53h-1.26zM438.38 277.29h1.26v1.53h-1.26zM439.58 277.29h1.26v1.53h-1.26zM347.00 278.76h1.26v1.53h-1.26zM349.40 278.76h1.26v1.53h-1.26zM357.82 278.76h1.26v1.53h-1.26zM363.83 278.76h1.26v1.53h-1.26zM367.44 278.76h1.26v1.53h-1.26zM369.85 278.76h1.26v1.53h-1.26zM372.25 278.76h1.26v1.53h-1.26zM373.45 278.76h1.26v1.53h-1.26zM427.56 278.76h1.26v1.53h-1.26zM433.57 278.76h1.26v1.53h-1.26zM434.77 278.76h1.26v1.53h-1.26zM435.98 278.76h1.26v1.53h-1.26zM437.18 278.76h1.26v1.53h-1.26zM443.19 278.76h1.26v1.53h-1.26zM444.39 278.76h1.26v1.53h-1.26zM362.63 280.23h1.26v1.53h-1.26zM363.83 280.23h1.26v1.53h-1.26zM366.24 280.23h1.26v1.53h-1.26zM374.65 280.23h1.26v1.53h-1.26zM383.07 280.23h1.26v1.53h-1.26zM395.10 280.23h1.26v1.53h-1.26zM401.11 280.23h1.26v1.53h-1.26zM402.31 280.23h1.26v1.53h-1.26zM404.71 280.23h1.26v1.53h-1.26zM405.92 280.23h1.26v1.53h-1.26zM415.54 280.23h1.26v1.53h-1.26zM417.94 280.23h1.26v1.53h-1.26zM421.55 280.23h1.26v1.53h-1.26zM422.75 280.23h1.26v1.53h-1.26zM423.95 280.23h1.26v1.53h-1.26zM428.76 280.23h1.26v1.53h-1.26zM431.17 280.23h1.26v1.53h-1.26zM434.77 280.23h1.26v1.53h-1.26zM435.98 280.23h1.26v1.53h-1.26zM438.38 280.23h1.26v1.53h-1.26zM441.99 280.23h1.26v1.53h-1.26zM444.39 280.23h1.26v1.53h-1.26zM446.80 280.23h1.26v1.53h-1.26z" fill="rgb(36,162,133)"/>
<path d="M390.29 262.57h1.26v1.53h-1.26zM391.49 262.57h1.26v1.53h-1.26zM390.29 264.04h1.26v1.53h-1.26zM397.50 264.04h1.26v1.53h-1.26zM383.07 265.51h1.26v1.53h-1.26zM389.08 265.51h1.26v1.53h-1.26zM391.49 265.51h1.26v1.53h-1.26zM396.30 265.51h1.26v1.53h-1.26zM381.87 266.99h1.26v1.53h-1.26zM386.68 266.99h1.26v1.53h-1.26zM410.73 266.99h1.26v1.53h-1.26zM413.13 266.99h1.26v1.53h-1.26zM414.33 266.99h1.26v1.53h-1.26zM380.67 268.46h1.26v1.53h-1.26zM381.87 268.46h1.26v1.53h-1.26zM414.33 268.46h1.26v1.53h-1.26zM380.67 269.93h1.26v1.53h-1.26zM387.88 269.93h1.26v1.53h-1.26zM396.30 269.93h1.26v1.53h-1.26zM410.73 269.93h1.26v1.53h-1.26zM411.93 269.93h1.26v1.53h-1.26zM387.88 271.40h1.26v1.53h-1.26zM389.08 271.40h1.26v1.53h-1.26zM395.10 271.40h1.26v1.53h-1.26zM410.73 271.40h1.26v1.53h-1.26zM411.93 271.40h1.26v1.53h-1.26zM413.13 271.40h1.26v1.53h-1.26zM414.33 271.40h1.26v1.53h-1.26zM416.74 271.40h1.26v1.53h-1.26zM419.14 271.40h1.26v1.53h-1.26zM420.35 271.40h1.26v1.53h-1.26zM425.15 271.40h1.26v1.53h-1.26zM426.36 271.40h1.26v1.53h-1.26zM434.77 271.40h1.26v1.53h-1.26zM441.99 271.40h1.26v1.53h-1.26zM445.60 271.40h1.26v1.53h-1.26zM446.80 271.40h1.26v1.53h-1.26zM385.48 272.87h1.26v1.53h-1.26zM387.88 272.87h1.26v1.53h-1.26zM392.69 272.87h1.26v1.53h-1.26zM405.92 272.87h1.26v1.53h-1.26zM381.87 274.34h1.26v1.53h-1.26zM387.88 274.34h1.26v1.53h-1.26zM404.71 274.34h1.26v1.53h-1.26zM405.92 274.34h1.26v1.53h-1.26zM407.12 274.34h1.26v1.53h-1.26zM413.13 274.34h1.26v1.53h-1.26zM415.54 274.34h1.26v1.53h-1.26zM383.07 275.81h1.26v1.53h-1.26zM384.27 275.81h1.26v1.53h-1.26zM395.10 275.81h1.26v1.53h-1.26zM413.13 275.81h1.26v1.53h-1.26zM415.54 275.81h1.26v1.53h-1.26zM416.74 275.81h1.26v1.53h-1.26zM417.94 275.81h1.26v1.53h-1.26zM422.75 275.81h1.26v1.53h-1.26zM427.56 275.81h1.26v1.53h-1.26zM434.77 275.81h1.26v1.53h-1.26zM439.58 275.81h1.26v1.53h-1.26zM440.79 275.81h1.26v1.53h-1.26zM441.99 275.81h1.26v1.53h-1.26zM348.20 277.29h1.26v1.53h-1.26zM349.40 277.29h1.26v1.53h-1.26zM350.61 277.29h1.26v1.53h-1.26zM353.01 277.29h1.26v1.53h-1.26zM354.21 277.29h1.26v1.53h-1.26zM356.62 277.29h1.26v1.53h-1.26zM365.04 277.29h1.26v1.53h-1.26zM366.24 277.29h1.26v1.53h-1.26zM367.44 277.29h1.26v1.53h-1.26zM368.64 277.29h1.26v1.53h-1.26zM373.45 277.29h1.26v1.53h-1.26zM348.20 278.76h1.26v1.53h-1.26zM354.21 278.76h1.26v1.53h-1.26zM362.63 278.76h1.26v1.53h-1.26zM366.24 278.76h1.26v1.53h-1.26zM368.64 278.76h1.26v1.53h-1.26zM374.65 278.76h1.26v1.53h-1.26zM419.14 278.76h1.26v1.53h-1.26zM421.55 278.76h1.26v1.53h-1.26zM426.36 278.76h1.26v1.53h-1.26zM429.96 278.76h1.26v1.53h-1.26zM441.99 278.76h1.26v1.53h-1.26zM369.85 280.23h1.26v1.53h-1.26zM377.06 280.23h1.26v1.53h-1.26zM378.26 280.23h1.26v1.53h-1.26zM379.46 280.23h1.26v1.53h-1.26zM385.48 280.23h1.26v1.53h-1.26zM393.89 280.23h1.26v1.53h-1.26zM403.51 280.23h1.26v1.53h-1.26zM432.37 280.23h1.26v1.53h-1.26zM439.58 280.23h1.26v1.53h-1.26zM445.60 280.23h1.26v1.53h-1.26z" fill="rgb(42,175,126)"/>
<path d="M380.67 266.99h1.26v1.53h-1.26zM386.68 268.46h1.26v1.53h-1.26zM391.49 269.93h1.26v1.53h-1.26zM397.50 269.93h1.26v1.53h-1.26zM408.32 269.93h1.26v1.53h-1.26zM409.52 269.93h1.26v1.53h-1.26zM413.13 269.93h1.26v1.53h-1.26zM379.46 271.40h1.26v1.53h-1.26zM386.68 271.40h1.26v1.53h-1.26zM390.29 271.40h1.26v1.53h-1.26zM391.49 271.40h1.26v1.53h-1.26zM393.89 271.40h1.26v1.53h-1.26zM396.30 271.40h1.26v1.53h-1.26zM397.50 271.40h1.26v1.53h-1.26zM421.55 271.40h1.26v1.53h-1.26zM427.56 271.40h1.26v1.53h-1.26zM433.57 271.40h1.26v1.53h-1.26zM435.98 271.40h1.26v1.53h-1.26zM438.38 271.40h1.26v1.53h-1.26zM443.19 271.40h1.26v1.53h-1.26zM379.46 272.87h1.26v1.53h-1.26zM380.67 272.87h1.26v1.53h-1.26zM391.49 272.87h1.26v1.53h-1.26zM398.70 272.87h1.26v1.53h-1.26zM408.32 272.87h1.26v1.53h-1.26zM409.52 272.87h1.26v1.53h-1.26zM386.68 274.34h1.26v1.53h-1.26zM391.49 274.34h1.26v1.53h-1.26zM392.69 274.34h1.26v1.53h-1.26zM401.11 274.34h1.26v1.53h-1.26zM403.51 274.34h1.26v1.53h-1.26zM411.93 274.34h1.26v1.53h-1.26zM414.33 274.34h1.26v1.53h-1.26zM417.94 274.34h1.26v1.53h-1.26zM419.14 274.34h1.26v1.53h-1.26zM386.68 275.81h1.26v1.53h-1.26zM387.88 275.81h1.26v1.53h-1.26zM390.29 275.81h1.26v1.53h-1.26zM410.73 275.81h1.26v1.53h-1.26zM421.55 275.81h1.26v1.53h-1.26zM425.15 275.81h1.26v1.53h-1.26zM432.37 275.81h1.26v1.53h-1.26zM435.98 275.81h1.26v1.53h-1.26zM443.19 275.81h1.26v1.53h-1.26zM384.27 277.29h1.26v1.53h-1.26zM411.93 277.29h1.26v1.53h-1.26zM384.27 278.76h1.26v1.53h-1.26zM385.48 278.76h1.26v1.53h-1.26zM399.90 278.76h1.26v1.53h-1.26zM415.54 278.76h1.26v1.53h-1.26zM416.74 278.76h1.26v1.53h-1.26zM368.64 280.23h1.26v1.53h-1.26zM372.25 280.23h1.26v1.53h-1.26zM375.86 280.23h1.26v1.53h-1.26zM380.67 280.23h1.26v1.53h-1.26zM386.68 280.23h1.26v1.53h-1.26zM387.88 280.23h1.26v1.53h-1.26zM392.69 280.23h1.26v1.53h-1.26zM397.50 280.23h1.26v1.53h-1.26zM398.70 280.23h1.26v1.53h-1.26zM399.90 280.23h1.26v1.53h-1.26zM407.12 280.23h1.26v1.53h-1.26zM410.73 280.23h1.26v1.53h-1.26zM411.93 280.23h1.26v1.53h-1.26zM414.33 280.23h1.26v1.53h-1.26z" fill="rgb(67,187,112)"/>
<path d="M390.29 268.46h1.26v1.53h-1.26zM391.49 268.46h1.26v1.53h-1.26zM381.87 269.93h1.26v1.53h-1.26zM380.67 271.40h1.26v1.53h-1.26zM415.54 271.40h1.26v1.53h-1.26zM381.87 272.87h1.26v1.53h-1.26zM397.50 272.87h1.26v1.53h-1.26zM411.93 272.87h1.26v1.53h-1.26zM380.67 274.34h1.26v1.53h-1.26zM402.31 274.34h1.26v1.53h-1.26zM380.67 275.81h1.26v1.53h-1.26zM381.87 275.81h1.26v1.53h-1.26zM391.49 275.81h1.26v1.53h-1.26zM401.11 275.81h1.26v1.53h-1.26zM402.31 275.81h1.26v1.53h-1.26zM404.71 275.81h1.26v1.53h-1.26zM405.92 275.81h1.26v1.53h-1.26zM409.52 275.81h1.26v1.53h-1.26zM419.14 275.81h1.26v1.53h-1.26zM377.06 277.29h1.26v1.53h-1.26zM379.46 277.29h1.26v1.53h-1.26zM383.07 277.29h1.26v1.53h-1.26zM392.69 277.29h1.26v1.53h-1.26zM395.10 277.29h1.26v1.53h-1.26zM409.52 277.29h1.26v1.53h-1.26zM414.33 277.29h1.26v1.53h-1.26zM378.26 278.76h1.26v1.53h-1.26zM379.46 278.76h1.26v1.53h-1.26zM395.10 278.76h1.26v1.53h-1.26zM402.31 278.76h1.26v1.53h-1.26zM407.12 278.76h1.26v1.53h-1.26zM389.08 280.23h1.26v1.53h-1.26zM396.30 280.23h1.26v1.53h-1.26zM408.32 280.23h1.26v1.53h-1.26zM409.52 280.23h1.26v1.53h-1.26zM413.13 280.23h1.26v1.53h-1.26z" fill="rgb(92,200,99)"/>
<path d="M390.29 269.93h1.26v1.53h-1.26zM381.87 271.40h1.26v1.53h-1.26zM386.68 272.87h1.26v1.53h-1.26zM390.29 272.87h1.26v1.53h-1.26zM395.10 272.87h1.26v1.53h-1.26zM410.73 272.87h1.26v1.53h-1.26zM415.54 272.87h1.26v1.53h-1.26zM390.29 274.34h1.26v1.53h-1.26zM396.30 274.34h1.26v1.53h-1.26zM398.70 274.34h1.26v1.53h-1.26zM410.73 274.34h1.26v1.53h-1.26zM398.70 275.81h1.26v1.53h-1.26zM399.90 275.81h1.26v1.53h-1.26zM378.26 277.29h1.26v1.53h-1.26zM381.87 277.29h1.26v1.53h-1.26zM385.48 277.29h1.26v1.53h-1.26zM389.08 277.29h1.26v1.53h-1.26zM393.89 277.29h1.26v1.53h-1.26zM410.73 277.29h1.26v1.53h-1.26zM377.06 278.76h1.26v1.53h-1.26zM393.89 278.76h1.26v1.53h-1.26zM403.51 278.76h1.26v1.53h-1.26zM409.52 278.76h1.26v1.53h-1.26zM411.93 278.76h1.26v1.53h-1.26zM381.87 280.23h1.26v1.53h-1.26zM391.49 280.23h1.26v1.53h-1.26z" fill="rgb(125,208,78)"/>
<path d="M392.69 271.40h1.26v1.53h-1.26zM413.13 272.87h1.26v1.53h-1.26zM414.33 272.87h1.26v1.53h-1.26zM393.89 274.34h1.26v1.53h-1.26zM395.10 274.34h1.26v1.53h-1.26zM399.90 274.34h1.26v1.53h-1.26zM409.52 274.34h1.26v1.53h-1.26zM403.51 275.81h1.26v1.53h-1.26zM387.88 277.29h1.26v1.53h-1.26zM396.30 277.29h1.26v1.53h-1.26zM399.90 277.29h1.26v1.53h-1.26zM381.87 278.76h1.26v1.53h-1.26zM383.07 278.76h1.26v1.53h-1.26zM386.68 278.76h1.26v1.53h-1.26zM390.29 278.76h1.26v1.53h-1.26zM392.69 278.76h1.26v1.53h-1.26zM396.30 278.76h1.26v1.53h-1.26zM397.50 278.76h1.26v1.53h-1.26zM398.70 278.76h1.26v1.53h-1.26zM401.11 278.76h1.26v1.53h-1.26zM408.32 278.76h1.26v1.53h-1.26zM410.73 278.76h1.26v1.53h-1.26zM414.33 278.76h1.26v1.53h-1.26zM390.29 280.23h1.26v1.53h-1.26z" fill="rgb(158,217,57)"/>
<path d="M393.89 272.87h1.26v1.53h-1.26zM396.30 272.87h1.26v1.53h-1.26zM397.50 274.34h1.26v1.53h-1.26zM396.30 275.81h1.26v1.53h-1.26zM407.12 275.81h1.26v1.53h-1.26zM408.32 275.81h1.26v1.53h-1.26zM391.49 277.29h1.26v1.53h-1.26zM397.50 277.29h1.26v1.53h-1.26zM398.70 277.29h1.26v1.53h-1.26zM404.71 277.29h1.26v1.53h-1.26zM407.12 277.29h1.26v1.53h-1.26zM413.13 277.29h1.26v1.53h-1.26zM387.88 278.76h1.26v1.53h-1.26zM404.71 278.76h1.26v1.53h-1.26zM413.13 278.76h1.26v1.53h-1.26z" fill="rgb(195,223,46)"/>
<path d="M408.32 274.34h1.26v1.53h-1.26zM397.50 275.81h1.26v1.53h-1.26zM380.67 277.29h1.26v1.53h-1.26zM386.68 277.29h1.26v1.53h-1.26zM390.29 277.29h1.26v1.53h-1.26zM401.11 277.29h1.26v1.53h-1.26zM402.31 277.29h1.26v1.53h-1.26zM403.51 277.29h1.26v1.53h-1.26zM405.92 277.29h1.26v1.53h-1.26zM408.32 277.29h1.26v1.53h-1.26zM380.67 278.76h1.26v1.53h-1.26zM389.08 278.76h1.26v1.53h-1.26zM391.49 278.76h1.26v1.53h-1.26zM405.92 278.76h1.26v1.53h-1.26z" fill="rgb(233,228,40)"/>
</g>
<text x="397.60" y="293.90" font-size="7.35" text-anchor="middle" font-weight="normal" fill="#000" font-family="'Liberation Sans', Arial, sans-serif" >Log-Mel Spectrogram</text>
<path d="M551.30 67.60 L551.30 45.60" fill="none" stroke="#000" stroke-width="1.3" />
<path d="M551.30 42.00 L553.90 47.60 L551.30 45.80 L548.70 47.60 Z" fill="#000" stroke="#000" stroke-width="0.6" stroke-linejoin="miter"/>
<rect x="511.20" y="68.20" width="80.50" height="46.80" rx="6" ry="6" fill="#f8cecc" stroke="#b85450" stroke-width="1" />
<path d="M551.3 68.70 H585.2 Q591.2 68.70 591.2 74.70 V108.50 Q591.2 114.50 585.2 114.50 H551.3 Z" fill="#f5bcb9" opacity=".5"/>
<rect x="551.30" y="72.60" width="33.30" height="9.60" rx="0.5" ry="0.5" fill="none" stroke="#e59a96" stroke-width="0.7" />
<rect x="551.30" y="86.60" width="33.30" height="11.40" rx="0.5" ry="0.5" fill="none" stroke="#e59a96" stroke-width="0.7" />
<rect x="551.30" y="100.60" width="33.30" height="12.00" rx="0.5" ry="0.5" fill="none" stroke="#e59a96" stroke-width="0.7" />
<rect x="537.80" y="95.00" width="26.50" height="2.20" rx="0" ry="0" fill="none" stroke="#e59a96" stroke-width="0.6" />
<rect x="537.80" y="108.40" width="26.50" height="2.20" rx="0" ry="0" fill="none" stroke="#e59a96" stroke-width="0.6" />
<path d="M511.50 96.00 L551.30 96.00" fill="none" stroke="#e08f8b" stroke-width="0.6" />
<path d="M551.30 68.20 L551.30 115.00" fill="none" stroke="#d07a76" stroke-width="0.8" />
<rect x="524.40" y="74.80" width="53.60" height="6.60" rx="0.6" ry="0.6" fill="#f7cac7" stroke="#b85450" stroke-width="0.9" />
<text x="551.20" y="80.20" font-size="5.4" text-anchor="middle" font-weight="normal" fill="#3b1b1a" font-family="'Liberation Sans', Arial, sans-serif" >MLP</text>
<rect x="524.40" y="88.30" width="53.60" height="6.60" rx="0.6" ry="0.6" fill="#f7cac7" stroke="#b85450" stroke-width="0.9" />
<text x="551.20" y="93.70" font-size="5.4" text-anchor="middle" font-weight="normal" fill="#3b1b1a" font-family="'Liberation Sans', Arial, sans-serif" >cross attention</text>
<rect x="524.40" y="101.70" width="53.60" height="6.60" rx="0.6" ry="0.6" fill="#f7cac7" stroke="#b85450" stroke-width="0.9" />
<text x="551.20" y="107.10" font-size="5.4" text-anchor="middle" font-weight="normal" fill="#3b1b1a" font-family="'Liberation Sans', Arial, sans-serif" >self attention</text>
<rect x="511.20" y="134.60" width="80.50" height="46.80" rx="6" ry="6" fill="#f8cecc" stroke="#b85450" stroke-width="1" />
<path d="M551.3 135.10 H585.2 Q591.2 135.10 591.2 141.10 V174.90 Q591.2 180.90 585.2 180.90 H551.3 Z" fill="#f5bcb9" opacity=".5"/>
<rect x="551.30" y="139.00" width="33.30" height="9.60" rx="0.5" ry="0.5" fill="none" stroke="#e59a96" stroke-width="0.7" />
<rect x="551.30" y="153.00" width="33.30" height="11.40" rx="0.5" ry="0.5" fill="none" stroke="#e59a96" stroke-width="0.7" />
<rect x="551.30" y="167.00" width="33.30" height="12.00" rx="0.5" ry="0.5" fill="none" stroke="#e59a96" stroke-width="0.7" />
<rect x="537.80" y="161.40" width="26.50" height="2.20" rx="0" ry="0" fill="none" stroke="#e59a96" stroke-width="0.6" />
<rect x="537.80" y="174.80" width="26.50" height="2.20" rx="0" ry="0" fill="none" stroke="#e59a96" stroke-width="0.6" />
<path d="M511.50 162.40 L551.30 162.40" fill="none" stroke="#e08f8b" stroke-width="0.6" />
<path d="M551.30 134.60 L551.30 181.40" fill="none" stroke="#d07a76" stroke-width="0.8" />
<rect x="524.40" y="141.20" width="53.60" height="6.60" rx="0.6" ry="0.6" fill="#f7cac7" stroke="#b85450" stroke-width="0.9" />
<text x="551.20" y="146.60" font-size="5.4" text-anchor="middle" font-weight="normal" fill="#3b1b1a" font-family="'Liberation Sans', Arial, sans-serif" >MLP</text>
<rect x="524.40" y="154.70" width="53.60" height="6.60" rx="0.6" ry="0.6" fill="#f7cac7" stroke="#b85450" stroke-width="0.9" />
<text x="551.20" y="160.10" font-size="5.4" text-anchor="middle" font-weight="normal" fill="#3b1b1a" font-family="'Liberation Sans', Arial, sans-serif" >cross attention</text>
<rect x="524.40" y="168.10" width="53.60" height="6.60" rx="0.6" ry="0.6" fill="#f7cac7" stroke="#b85450" stroke-width="0.9" />
<text x="551.20" y="173.50" font-size="5.4" text-anchor="middle" font-weight="normal" fill="#3b1b1a" font-family="'Liberation Sans', Arial, sans-serif" >self attention</text>
<rect x="511.20" y="181.50" width="80.50" height="46.80" rx="6" ry="6" fill="#f8cecc" stroke="#b85450" stroke-width="1" />
<path d="M551.3 182.00 H585.2 Q591.2 182.00 591.2 188.00 V221.80 Q591.2 227.80 585.2 227.80 H551.3 Z" fill="#f5bcb9" opacity=".5"/>
<rect x="551.30" y="185.90" width="33.30" height="9.60" rx="0.5" ry="0.5" fill="none" stroke="#e59a96" stroke-width="0.7" />
<rect x="551.30" y="199.90" width="33.30" height="11.40" rx="0.5" ry="0.5" fill="none" stroke="#e59a96" stroke-width="0.7" />
<rect x="551.30" y="213.90" width="33.30" height="12.00" rx="0.5" ry="0.5" fill="none" stroke="#e59a96" stroke-width="0.7" />
<rect x="537.80" y="208.30" width="26.50" height="2.20" rx="0" ry="0" fill="none" stroke="#e59a96" stroke-width="0.6" />
<rect x="537.80" y="221.70" width="26.50" height="2.20" rx="0" ry="0" fill="none" stroke="#e59a96" stroke-width="0.6" />
<path d="M511.50 209.30 L551.30 209.30" fill="none" stroke="#e08f8b" stroke-width="0.6" />
<path d="M551.30 181.50 L551.30 228.30" fill="none" stroke="#d07a76" stroke-width="0.8" />
<rect x="524.40" y="188.10" width="53.60" height="6.60" rx="0.6" ry="0.6" fill="#f7cac7" stroke="#b85450" stroke-width="0.9" />
<text x="551.20" y="193.50" font-size="5.4" text-anchor="middle" font-weight="normal" fill="#3b1b1a" font-family="'Liberation Sans', Arial, sans-serif" >MLP</text>
<rect x="524.40" y="201.60" width="53.60" height="6.60" rx="0.6" ry="0.6" fill="#f7cac7" stroke="#b85450" stroke-width="0.9" />
<text x="551.20" y="207.00" font-size="5.4" text-anchor="middle" font-weight="normal" fill="#3b1b1a" font-family="'Liberation Sans', Arial, sans-serif" >cross attention</text>
<rect x="524.40" y="215.00" width="53.60" height="6.60" rx="0.6" ry="0.6" fill="#f7cac7" stroke="#b85450" stroke-width="0.9" />
<text x="551.20" y="220.40" font-size="5.4" text-anchor="middle" font-weight="normal" fill="#3b1b1a" font-family="'Liberation Sans', Arial, sans-serif" >self attention</text>
<path d="M551.30 115.30 L551.30 134.20" fill="none" stroke="#000" stroke-width="1.1" stroke-dasharray="1.2 2"/>
<text x="554.60" y="55.20" font-size="6.7" text-anchor="start" font-weight="normal" fill="#000" font-family="'Liberation Sans', Arial, sans-serif" >next-token</text>
<text x="554.60" y="63.10" font-size="6.7" text-anchor="start" font-weight="normal" fill="#000" font-family="'Liberation Sans', Arial, sans-serif" >prediction</text>
<text transform="translate(469.4,139.3) rotate(-90)" font-size="7.9" text-anchor="middle" font-family="'Liberation Sans', Arial, sans-serif">cross attention</text>
<rect x="486.6" y="122.0" width="1.3" height="1.3" fill="#000"/>
<rect x="486.6" y="125.0" width="1.3" height="1.3" fill="#000"/>
<rect x="486.6" y="128.0" width="1.3" height="1.3" fill="#000"/>
<path d="M600.5 67.6 Q607.3 67.6 607.3 73.5 V141 Q607.3 147 613.5 147 Q607.3 147 607.3 153 V222.5 Q607.3 228.4 600.5 228.4" fill="none" stroke="#b85450" stroke-width="1.4"/>
<text x="640.60" y="146.00" font-size="7.3" text-anchor="middle" font-weight="normal" fill="#000" font-family="'Liberation Sans', Arial, sans-serif" >Transformer</text>
<text x="640.60" y="155.50" font-size="7.3" text-anchor="middle" font-weight="normal" fill="#000" font-family="'Liberation Sans', Arial, sans-serif" >Decoder Blocks</text>
<text x="644.60" y="238.00" font-size="7.3" text-anchor="middle" font-weight="normal" fill="#000" font-family="'Liberation Sans', Arial, sans-serif" >Learned</text>
<text x="644.60" y="247.00" font-size="7.3" text-anchor="middle" font-weight="normal" fill="#000" font-family="'Liberation Sans', Arial, sans-serif" >Positional</text>
<text x="644.60" y="256.00" font-size="7.3" text-anchor="middle" font-weight="normal" fill="#000" font-family="'Liberation Sans', Arial, sans-serif" >Encoding</text>
<path d="M601.2 237.8 V250.6 A10.2 3.6 0 0 0 621.6 250.6 V237.8" fill="#fff" stroke="#000" stroke-width="1.1"/><ellipse cx="611.4" cy="237.8" rx="10.2" ry="3.6" fill="#fff" stroke="#000" stroke-width="1.1"/><path d="M601.6 238.4 A9.8 3.4 0 0 0 621.2 238.4 V240.2 A9.8 3.4 0 0 1 601.6 240.2 Z" fill="#444"/>
<path d="M601.20 244.30 L558.00 244.30" fill="none" stroke="#000" stroke-width="1.3" />
<path d="M554.40 244.30 L560.00 241.70 L558.20 244.30 L560.00 246.90 Z" fill="#000" stroke="#000" stroke-width="0.6" stroke-linejoin="miter"/>
<circle cx="551.3" cy="244.3" r="3.1" fill="#fff" stroke="#000" stroke-width="1"/><path d="M548.2 244.3 H554.4 M551.3 241.2 V247.4" stroke="#000" stroke-width="0.9"/>
<path d="M551.30 261.00 L551.30 251.10" fill="none" stroke="#000" stroke-width="1.3" />
<path d="M551.30 247.50 L553.90 253.10 L551.30 251.30 L548.70 253.10 Z" fill="#000" stroke="#000" stroke-width="0.6" stroke-linejoin="miter"/>
<path d="M551.30 241.20 L551.30 232.20" fill="none" stroke="#000" stroke-width="1.3" />
<path d="M551.30 228.60 L553.90 234.20 L551.30 232.40 L548.70 234.20 Z" fill="#000" stroke="#000" stroke-width="0.6" stroke-linejoin="miter"/>
<rect x="481.40" y="21.4" width="20.03" height="20.3" fill="#ffe6cc" stroke="#d79b00" stroke-width="1"/>
<text x="491.41" y="34.25" font-size="7.3" text-anchor="middle" font-weight="normal" fill="#000" font-family="'Liberation Sans', Arial, sans-serif" >EN</text>
<rect x="501.43" y="21.4" width="20.03" height="20.3" fill="#ffe6cc" stroke="#d79b00" stroke-width="1"/>
<text x="511.44" y="30.00" font-size="4.5" text-anchor="middle" font-weight="normal" fill="#000" font-family="'Liberation Sans', Arial, sans-serif" >TRANS-</text>
<text x="511.44" y="35.60" font-size="4.5" text-anchor="middle" font-weight="normal" fill="#000" font-family="'Liberation Sans', Arial, sans-serif" >CRIBE</text>
<rect x="521.46" y="21.4" width="20.03" height="20.3" fill="#d5e8d4" stroke="#82b366" stroke-width="1"/>
<text x="531.48" y="34.25" font-size="7.3" text-anchor="middle" font-weight="normal" fill="#000" font-family="'Liberation Sans', Arial, sans-serif" >0.0</text>
<rect x="541.49" y="21.4" width="20.03" height="20.3" fill="#dae8fc" stroke="#6c8ebf" stroke-width="1"/>
<text x="551.50" y="34.25" font-size="7.3" text-anchor="middle" font-weight="normal" fill="#000" font-family="'Liberation Sans', Arial, sans-serif" >The</text>
<rect x="561.52" y="21.4" width="20.03" height="20.3" fill="#dae8fc" stroke="#6c8ebf" stroke-width="1"/>
<text x="571.53" y="34.25" font-size="7.3" text-anchor="middle" font-weight="normal" fill="#000" font-family="'Liberation Sans', Arial, sans-serif" >quick</text>
<rect x="581.55" y="21.4" width="20.03" height="20.3" fill="#dae8fc" stroke="#6c8ebf" stroke-width="1"/>
<text x="591.56" y="34.25" font-size="7.3" text-anchor="middle" font-weight="normal" fill="#000" font-family="'Liberation Sans', Arial, sans-serif" >brown</text>
<rect x="601.58" y="21.4" width="20.03" height="20.3" fill="#fff" stroke="#ccc" stroke-width="1"/>
<rect x="607.59" y="31.75" width="1.3" height="1.3" fill="#000"/>
<rect x="610.99" y="31.75" width="1.3" height="1.3" fill="#000"/>
<rect x="614.39" y="31.75" width="1.3" height="1.3" fill="#000"/>
<rect x="481.20" y="261.2" width="20.03" height="20.3" fill="#ffe6cc" stroke="#d79b00" stroke-width="1"/>
<text x="491.21" y="274.05" font-size="7.3" text-anchor="middle" font-weight="normal" fill="#000" font-family="'Liberation Sans', Arial, sans-serif" >SOT</text>
<rect x="501.23" y="261.2" width="20.03" height="20.3" fill="#ffe6cc" stroke="#d79b00" stroke-width="1"/>
<text x="511.25" y="274.05" font-size="7.3" text-anchor="middle" font-weight="normal" fill="#000" font-family="'Liberation Sans', Arial, sans-serif" >EN</text>
<rect x="521.26" y="261.2" width="20.03" height="20.3" fill="#ffe6cc" stroke="#d79b00" stroke-width="1"/>
<text x="531.27" y="269.80" font-size="4.5" text-anchor="middle" font-weight="normal" fill="#000" font-family="'Liberation Sans', Arial, sans-serif" >TRANS-</text>
<text x="531.27" y="275.40" font-size="4.5" text-anchor="middle" font-weight="normal" fill="#000" font-family="'Liberation Sans', Arial, sans-serif" >CRIBE</text>
<rect x="541.29" y="261.2" width="20.03" height="20.3" fill="#d5e8d4" stroke="#82b366" stroke-width="1"/>
<text x="551.30" y="274.05" font-size="7.3" text-anchor="middle" font-weight="normal" fill="#000" font-family="'Liberation Sans', Arial, sans-serif" >0.0</text>
<rect x="561.32" y="261.2" width="20.03" height="20.3" fill="#dae8fc" stroke="#6c8ebf" stroke-width="1"/>
<text x="571.33" y="274.05" font-size="7.3" text-anchor="middle" font-weight="normal" fill="#000" font-family="'Liberation Sans', Arial, sans-serif" >The</text>
<rect x="581.35" y="261.2" width="20.03" height="20.3" fill="#dae8fc" stroke="#6c8ebf" stroke-width="1"/>
<text x="591.37" y="274.05" font-size="7.3" text-anchor="middle" font-weight="normal" fill="#000" font-family="'Liberation Sans', Arial, sans-serif" >quick</text>
<rect x="601.38" y="261.2" width="20.03" height="20.3" fill="#fff" stroke="#ccc" stroke-width="1"/>
<rect x="607.39" y="271.55" width="1.3" height="1.3" fill="#000"/>
<rect x="610.79" y="271.55" width="1.3" height="1.3" fill="#000"/>
<rect x="614.19" y="271.55" width="1.3" height="1.3" fill="#000"/>
<text x="551.00" y="294.00" font-size="7.3" text-anchor="middle" font-weight="normal" fill="#000" font-family="'Liberation Sans', Arial, sans-serif" >Tokens in Multitask Training Format</text>
<path d="M475 301 L188 334.5 H30 Q22 334.5 22 342.5 V486.5 Q22 494.5 30 494.5 H660 Q668 494.5 668 486.5 V342 Q668 338.5 665.5 336 L631 301" fill="url(#dots)" stroke="#606060" stroke-width="1.2"/>
<text x="33.00" y="355.20" font-size="12" text-anchor="start" font-weight="bold" fill="#000" font-family="'Liberation Sans', Arial, sans-serif" >Multitask training format</text>
<circle cx="35" cy="409.3" r="3.7" fill="#000"/>
<path d="M35.00 409.30 L50.70 409.30" fill="none" stroke="#000" stroke-width="1.35" />
<path d="M55.00 409.30 L48.70 412.20 L50.50 409.30 L48.70 406.40 Z" fill="#000" stroke="#000" stroke-width="0.6" stroke-linejoin="miter"/>
<path d="M35.00 409.30 L61.80 388.00 L149.00 388.00 L164.58 399.89" fill="none" stroke="#000" stroke-width="1.4" />
<path d="M168.00 402.50 L161.23 400.98 L164.42 399.77 L164.75 396.37 Z" fill="#000" stroke="#000" stroke-width="0.6" stroke-linejoin="miter"/>
<rect x="55.30" y="397.60" width="26.50" height="23.40" rx="3" ry="3" fill="#ffe6cc" stroke="#d79b00" stroke-width="1.05" />
<text x="68.55" y="411.90" font-size="7.3" text-anchor="middle" font-weight="normal" fill="#000" font-family="'Liberation Sans', Arial, sans-serif" >PREV</text>
<path d="M81.80 409.30 L90.70 409.30" fill="none" stroke="#000" stroke-width="1.35" />
<path d="M95.00 409.30 L88.70 412.20 L90.50 409.30 L88.70 406.40 Z" fill="#000" stroke="#000" stroke-width="0.6" stroke-linejoin="miter"/>
<rect x="95.30" y="397.60" width="60.30" height="23.40" rx="3" ry="3" fill="#dae8fc" stroke="#6c8ebf" stroke-width="1.05" />
<path d="M113 398.2 H121.5 L111.4 420.4 H103 Z M141.4 398.2 H148.8 L140 420.4 H133 Z" fill="#d9ecd2" opacity=".85"/>
<text x="125.45" y="407.50" font-size="7.3" text-anchor="middle" font-weight="normal" fill="#000" font-family="'Liberation Sans', Arial, sans-serif" >previous</text>
<text x="125.45" y="416.30" font-size="7.3" text-anchor="middle" font-weight="normal" fill="#000" font-family="'Liberation Sans', Arial, sans-serif" >text tokens</text>
<path d="M155.60 409.30 L163.70 409.30" fill="none" stroke="#000" stroke-width="1.35" />
<path d="M168.00 409.30 L161.70 412.20 L163.50 409.30 L161.70 406.40 Z" fill="#000" stroke="#000" stroke-width="0.6" stroke-linejoin="miter"/>
<rect x="168.20" y="398.00" width="53.50" height="23.20" rx="3" ry="3" fill="#ffe6cc" stroke="#d79b00" stroke-width="1.05" />
<text x="194.95" y="407.80" font-size="7.3" text-anchor="middle" font-weight="normal" fill="#000" font-family="'Liberation Sans', Arial, sans-serif" >START OF</text>
<text x="194.95" y="416.60" font-size="7.3" text-anchor="middle" font-weight="normal" fill="#000" font-family="'Liberation Sans', Arial, sans-serif" >TRANSCRIPT</text>
<path d="M221.70 403.60 L230.96 400.26" fill="none" stroke="#000" stroke-width="1.35" />
<path d="M235.00 398.80 L230.06 403.67 L230.77 400.33 L228.09 398.21 Z" fill="#000" stroke="#000" stroke-width="0.6" stroke-linejoin="miter"/>
<path d="M221.70 415.30 L230.95 418.57" fill="none" stroke="#000" stroke-width="1.35" />
<path d="M235.00 420.00 L228.09 420.64 L230.76 418.50 L230.03 415.17 Z" fill="#000" stroke="#000" stroke-width="0.6" stroke-linejoin="miter"/>
<rect x="235.20" y="381.10" width="46.20" height="23.30" rx="3" ry="3" fill="#ffe6cc" stroke="#d79b00" stroke-width="1.05" />
<text x="258.30" y="390.95" font-size="7.3" text-anchor="middle" font-weight="normal" fill="#000" font-family="'Liberation Sans', Arial, sans-serif" >LANGUAGE</text>
<text x="258.30" y="399.75" font-size="7.3" text-anchor="middle" font-weight="normal" fill="#000" font-family="'Liberation Sans', Arial, sans-serif" >TAG</text>
<rect x="235.20" y="414.60" width="46.20" height="23.00" rx="3" ry="3" fill="#ffe6cc" stroke="#d79b00" stroke-width="1.05" />
<text x="258.30" y="424.30" font-size="7.3" text-anchor="middle" font-weight="normal" fill="#000" font-family="'Liberation Sans', Arial, sans-serif" >NO</text>
<text x="258.30" y="433.10" font-size="7.3" text-anchor="middle" font-weight="normal" fill="#000" font-family="'Liberation Sans', Arial, sans-serif" >SPEECH</text>
<path d="M281.40 392.70 L290.30 392.70" fill="none" stroke="#000" stroke-width="1.35" />
<path d="M294.60 392.70 L288.30 395.60 L290.10 392.70 L288.30 389.80 Z" fill="#000" stroke="#000" stroke-width="0.6" stroke-linejoin="miter"/>
<path d="M281.60 399.30 L292.47 416.18" fill="none" stroke="#000" stroke-width="1.35" />
<path d="M294.80 419.80 L288.95 416.07 L292.36 416.02 L293.83 412.93 Z" fill="#000" stroke="#000" stroke-width="0.6" stroke-linejoin="miter"/>
<rect x="294.80" y="381.10" width="53.50" height="23.30" rx="3" ry="3" fill="#ffe6cc" stroke="#d79b00" stroke-width="1.05" />
<text x="321.55" y="395.35" font-size="7.3" text-anchor="middle" font-weight="normal" fill="#000" font-family="'Liberation Sans', Arial, sans-serif" >TRANSCRIBE</text>
<rect x="294.80" y="414.60" width="53.50" height="23.00" rx="3" ry="3" fill="#ffe6cc" stroke="#d79b00" stroke-width="1.05" />
<text x="321.55" y="428.70" font-size="7.3" text-anchor="middle" font-weight="normal" fill="#000" font-family="'Liberation Sans', Arial, sans-serif" >TRANSLATE</text>
<path d="M348.30 392.70 L356.70 392.70" fill="none" stroke="#000" stroke-width="1.35" />
<path d="M361.00 392.70 L354.70 395.60 L356.50 392.70 L354.70 389.80 Z" fill="#000" stroke="#000" stroke-width="0.6" stroke-linejoin="miter"/>
<path d="M348.30 426.00 L356.70 426.00" fill="none" stroke="#000" stroke-width="1.35" />
<path d="M361.00 426.00 L354.70 428.90 L356.50 426.00 L354.70 423.10 Z" fill="#000" stroke="#000" stroke-width="0.6" stroke-linejoin="miter"/>
<path d="M348.30 399.50 L358.65 414.46" fill="none" stroke="#000" stroke-width="1.35" />
<path d="M361.10 418.00 L355.13 414.47 L358.54 414.30 L359.90 411.17 Z" fill="#000" stroke="#000" stroke-width="0.6" stroke-linejoin="miter"/>
<path d="M348.30 419.80 L358.78 403.42" fill="none" stroke="#000" stroke-width="1.35" />
<path d="M361.10 399.80 L360.15 406.67 L358.67 403.59 L355.26 403.54 Z" fill="#000" stroke="#000" stroke-width="0.6" stroke-linejoin="miter"/>
<rect x="361.10" y="381.10" width="27.30" height="23.30" rx="3" ry="3" fill="#d5e8d4" stroke="#82b366" stroke-width="1.05" />
<text x="374.75" y="390.95" font-size="7.3" text-anchor="middle" font-weight="normal" fill="#000" font-family="'Liberation Sans', Arial, sans-serif" >begin</text>
<text x="374.75" y="399.75" font-size="7.3" text-anchor="middle" font-weight="normal" fill="#000" font-family="'Liberation Sans', Arial, sans-serif" >time</text>
<path d="M388.40 392.70 L393.70 392.70" fill="none" stroke="#000" stroke-width="1.35" />
<path d="M398.00 392.70 L391.70 395.60 L393.50 392.70 L391.70 389.80 Z" fill="#000" stroke="#000" stroke-width="0.6" stroke-linejoin="miter"/>
<rect x="398.20" y="381.10" width="46.60" height="23.30" rx="3" ry="3" fill="#dae8fc" stroke="#6c8ebf" stroke-width="1.05" />
<text x="421.50" y="395.35" font-size="7.3" text-anchor="middle" font-weight="normal" fill="#000" font-family="'Liberation Sans', Arial, sans-serif" >text tokens</text>
<path d="M444.80 392.70 L450.10 392.70" fill="none" stroke="#000" stroke-width="1.35" />
<path d="M454.40 392.70 L448.10 395.60 L449.90 392.70 L448.10 389.80 Z" fill="#000" stroke="#000" stroke-width="0.6" stroke-linejoin="miter"/>
<rect x="454.60" y="381.10" width="26.60" height="23.30" rx="3" ry="3" fill="#d5e8d4" stroke="#82b366" stroke-width="1.05" />
<text x="467.90" y="390.95" font-size="7.3" text-anchor="middle" font-weight="normal" fill="#000" font-family="'Liberation Sans', Arial, sans-serif" >end</text>
<text x="467.90" y="399.75" font-size="7.3" text-anchor="middle" font-weight="normal" fill="#000" font-family="'Liberation Sans', Arial, sans-serif" >time</text>
<rect x="486.60" y="395.4" width="1.3" height="1.3" fill="#000"/>
<rect x="490.00" y="395.4" width="1.3" height="1.3" fill="#000"/>
<rect x="493.40" y="395.4" width="1.3" height="1.3" fill="#000"/>
<rect x="501.20" y="381.10" width="26.90" height="23.30" rx="3" ry="3" fill="#d5e8d4" stroke="#82b366" stroke-width="1.05" />
<text x="514.65" y="390.95" font-size="7.3" text-anchor="middle" font-weight="normal" fill="#000" font-family="'Liberation Sans', Arial, sans-serif" >begin</text>
<text x="514.65" y="399.75" font-size="7.3" text-anchor="middle" font-weight="normal" fill="#000" font-family="'Liberation Sans', Arial, sans-serif" >time</text>
<path d="M528.10 392.70 L533.30 392.70" fill="none" stroke="#000" stroke-width="1.35" />
<path d="M537.60 392.70 L531.30 395.60 L533.10 392.70 L531.30 389.80 Z" fill="#000" stroke="#000" stroke-width="0.6" stroke-linejoin="miter"/>
<rect x="537.80" y="381.10" width="46.80" height="23.30" rx="3" ry="3" fill="#dae8fc" stroke="#6c8ebf" stroke-width="1.05" />
<text x="561.20" y="395.35" font-size="7.3" text-anchor="middle" font-weight="normal" fill="#000" font-family="'Liberation Sans', Arial, sans-serif" >text tokens</text>
<path d="M584.60 392.70 L590.30 392.70" fill="none" stroke="#000" stroke-width="1.35" />
<path d="M594.60 392.70 L588.30 395.60 L590.10 392.70 L588.30 389.80 Z" fill="#000" stroke="#000" stroke-width="0.6" stroke-linejoin="miter"/>
<rect x="594.80" y="381.10" width="26.60" height="23.30" rx="3" ry="3" fill="#d5e8d4" stroke="#82b366" stroke-width="1.05" />
<text x="608.10" y="390.95" font-size="7.3" text-anchor="middle" font-weight="normal" fill="#000" font-family="'Liberation Sans', Arial, sans-serif" >end</text>
<text x="608.10" y="399.75" font-size="7.3" text-anchor="middle" font-weight="normal" fill="#000" font-family="'Liberation Sans', Arial, sans-serif" >time</text>
<path d="M621.40 397.00 L628.49 402.02" fill="none" stroke="#000" stroke-width="1.35" />
<path d="M632.00 404.50 L625.18 403.23 L628.33 401.90 L628.53 398.49 Z" fill="#000" stroke="#000" stroke-width="0.6" stroke-linejoin="miter"/>
<rect x="361.10" y="414.60" width="54.20" height="23.00" rx="3" ry="3" fill="#ffe6cc" stroke="#d79b00" stroke-width="1.05" />
<text x="388.20" y="424.30" font-size="7.3" text-anchor="middle" font-weight="normal" fill="#000" font-family="'Liberation Sans', Arial, sans-serif" >NO</text>
<text x="388.20" y="433.10" font-size="7.3" text-anchor="middle" font-weight="normal" fill="#000" font-family="'Liberation Sans', Arial, sans-serif" >TIMESTAMPS</text>
<path d="M415.30 426.00 L423.90 426.00" fill="none" stroke="#000" stroke-width="1.35" />
<path d="M428.20 426.00 L421.90 428.90 L423.70 426.00 L421.90 423.10 Z" fill="#000" stroke="#000" stroke-width="0.6" stroke-linejoin="miter"/>
<rect x="428.40" y="414.60" width="193.00" height="23.00" rx="3" ry="3" fill="#dae8fc" stroke="#6c8ebf" stroke-width="1.05" />
<text x="524.90" y="428.70" font-size="7.3" text-anchor="middle" font-weight="normal" fill="#000" font-family="'Liberation Sans', Arial, sans-serif" >text tokens</text>
<path d="M621.40 422.00 L628.33 417.75" fill="none" stroke="#000" stroke-width="1.35" />
<path d="M632.00 415.50 L628.15 421.27 L628.16 417.85 L625.11 416.32 Z" fill="#000" stroke="#000" stroke-width="0.6" stroke-linejoin="miter"/>
<rect x="632.00" y="398.00" width="25.40" height="23.20" rx="3" ry="3" fill="#ffe6cc" stroke="#d79b00" stroke-width="1.05" />
<text x="644.70" y="412.20" font-size="7.3" text-anchor="middle" font-weight="normal" fill="#000" font-family="'Liberation Sans', Arial, sans-serif" >EOT</text>
<rect x="31.60" y="461.00" width="46.90" height="23.40" rx="3" ry="3" fill="#ffe6cc" stroke="#d79b00" stroke-width="1.05" />
<text x="55.05" y="470.40" font-size="8" text-anchor="middle" font-weight="normal" fill="#000" font-family="'Liberation Sans', Arial, sans-serif" >special</text>
<text x="55.05" y="480.20" font-size="8" text-anchor="middle" font-weight="normal" fill="#000" font-family="'Liberation Sans', Arial, sans-serif" >tokens</text>
<rect x="85.00" y="461.00" width="46.60" height="23.40" rx="3" ry="3" fill="#dae8fc" stroke="#6c8ebf" stroke-width="1.05" />
<text x="108.30" y="470.40" font-size="8" text-anchor="middle" font-weight="normal" fill="#000" font-family="'Liberation Sans', Arial, sans-serif" >text</text>
<text x="108.30" y="480.20" font-size="8" text-anchor="middle" font-weight="normal" fill="#000" font-family="'Liberation Sans', Arial, sans-serif" >tokens</text>
<rect x="138.00" y="461.00" width="47.00" height="23.40" rx="3" ry="3" fill="#d5e8d4" stroke="#82b366" stroke-width="1.05" />
<text x="161.50" y="470.40" font-size="8" text-anchor="middle" font-weight="normal" fill="#000" font-family="'Liberation Sans', Arial, sans-serif" >timestamp</text>
<text x="161.50" y="480.20" font-size="8" text-anchor="middle" font-weight="normal" fill="#000" font-family="'Liberation Sans', Arial, sans-serif" >tokens</text>
<text x="124.70" y="441.60" font-size="7.3" text-anchor="middle" font-weight="normal" fill="#000" font-family="'Liberation Sans', Arial, sans-serif" >Custom vocabulary /</text>
<text x="124.70" y="452.20" font-size="7.3" text-anchor="middle" font-weight="normal" fill="#000" font-family="'Liberation Sans', Arial, sans-serif" >prompting</text>
<path d="M124.70 435.00 L124.70 426.10" fill="none" stroke="#f33" stroke-width="1" />
<path d="M124.70 422.30 L127.20 428.10 L124.70 426.30 L122.20 428.10 Z" fill="#f33" stroke="#f33" stroke-width="0.6" stroke-linejoin="miter"/>
<text x="257.70" y="352.30" font-size="7.3" text-anchor="middle" font-weight="normal" fill="#000" font-family="'Liberation Sans', Arial, sans-serif" >Language</text>
<text x="257.70" y="361.60" font-size="7.3" text-anchor="middle" font-weight="normal" fill="#000" font-family="'Liberation Sans', Arial, sans-serif" >identification</text>
<path d="M257.70 381.00 L257.70 369.40" fill="none" stroke="#f33" stroke-width="1" />
<path d="M257.70 365.60 L260.20 371.40 L257.70 369.60 L255.20 371.40 Z" fill="#f33" stroke="#f33" stroke-width="0.6" stroke-linejoin="miter"/>
<text x="320.60" y="352.30" font-size="7.3" text-anchor="middle" font-weight="normal" fill="#000" font-family="'Liberation Sans', Arial, sans-serif" >X <tspan font-family="DejaVu Sans" font-size="7.6">→</tspan> X</text>
<text x="320.40" y="361.60" font-size="7.3" text-anchor="middle" font-weight="normal" fill="#000" font-family="'Liberation Sans', Arial, sans-serif" >Transcription</text>
<path d="M321.00 364.80 L321.00 376.80" fill="none" stroke="#f33" stroke-width="1" />
<path d="M321.00 380.60 L318.50 374.80 L321.00 376.60 L323.50 374.80 Z" fill="#f33" stroke="#f33" stroke-width="0.6" stroke-linejoin="miter"/>
<path d="M257.70 437.80 L257.70 447.40" fill="none" stroke="#f33" stroke-width="1" />
<path d="M257.70 451.20 L255.20 445.40 L257.70 447.20 L260.20 445.40 Z" fill="#f33" stroke="#f33" stroke-width="0.6" stroke-linejoin="miter"/>
<text x="257.70" y="458.30" font-size="7.3" text-anchor="middle" font-weight="normal" fill="#000" font-family="'Liberation Sans', Arial, sans-serif" >Voice activity</text>
<text x="257.70" y="467.20" font-size="7.3" text-anchor="middle" font-weight="normal" fill="#000" font-family="'Liberation Sans', Arial, sans-serif" >detection</text>
<text x="257.70" y="476.20" font-size="7.3" text-anchor="middle" font-weight="normal" fill="#000" font-family="'Liberation Sans', Arial, sans-serif" >(VAD)</text>
<path d="M321.00 451.50 L321.00 442.00" fill="none" stroke="#f33" stroke-width="1" />
<path d="M321.00 438.20 L323.50 444.00 L321.00 442.20 L318.50 444.00 Z" fill="#f33" stroke="#f33" stroke-width="0.6" stroke-linejoin="miter"/>
<text x="321.00" y="459.40" font-size="7.3" text-anchor="middle" font-weight="normal" fill="#000" font-family="'Liberation Sans', Arial, sans-serif" >X <tspan font-family="DejaVu Sans" font-size="7.6">→</tspan> English</text>
<text x="321.00" y="468.20" font-size="7.3" text-anchor="middle" font-weight="normal" fill="#000" font-family="'Liberation Sans', Arial, sans-serif" >Translation</text>
<text x="491.00" y="357.20" font-size="7.3" text-anchor="middle" font-weight="normal" fill="#000" font-family="'Liberation Sans', Arial, sans-serif" >Time-aligned transcription</text>
<path d="M361.2 374.6 V372 Q361.2 368.4 365 368.4 H486.6 Q490.8 368.4 490.8 362.6 Q490.8 368.4 495 368.4 H617.5 Q621.3 368.4 621.3 372 V374.6" fill="none" stroke="#f55" stroke-width="1.25"/>
<path d="M428.5 441.6 V444 Q428.5 447.5 432.3 447.5 H519.7 Q524.5 447.5 524.5 452.6 Q524.5 447.5 529.3 447.5 H617.5 Q621.3 447.5 621.3 444 V441.6" fill="none" stroke="#f55" stroke-width="1.25"/>
<text x="524.50" y="462.00" font-size="7.3" text-anchor="middle" font-weight="normal" fill="#000" font-family="'Liberation Sans', Arial, sans-serif" >Text-only transcription</text>
<text x="524.50" y="471.80" font-size="7.3" text-anchor="middle" font-weight="normal" fill="#000" font-family="'Liberation Sans', Arial, sans-serif" >(allows dataset-specific fine-tuning)</text>
<path d="M281.40 437.60 L295.50 480.50 L617.00 480.50 L630.60 424.00" fill="none" stroke="#333" stroke-width="0.7" stroke-dasharray="2 1.5"/>
<path d="M631.00 422.40 L631.97 427.78 L630.25 425.51 L627.69 426.75 Z" fill="#000" stroke="#000" stroke-width="0.6" stroke-linejoin="miter"/>
<ellipse cx="549" cy="468" rx="10" ry="13" fill="#fff" opacity=".75"/>
<rect x="703.3" y="430" width="12" height="73" fill="#fff"/>
<rect x="559" y="438.8" width="144.3" height="53" fill="#000"/>
<rect x="559" y="467.9" width="146" height="1.1" fill="#a8d8f4"/>
<g font-family="'Liberation Sans', 'Noto Sans CJK SC', sans-serif" fill="#2a6fc8" stroke="#fff" paint-order="stroke" stroke-linejoin="round" text-anchor="middle">
<text transform="translate(578.3,464) scale(1.41,1)" font-size="28" stroke-width="1.3">开</text>
<text transform="translate(634.5,464) scale(1.41,1)" font-size="28" stroke-width="1.3">发</text>
<text transform="translate(687.5,464) scale(1.41,1)" font-size="28" stroke-width="1.3">者</text>
<text x="632.5" y="491" font-size="28" stroke-width="3.6" textLength="147.5" lengthAdjust="spacingAndGlyphs">DevZe.CoM</text>
</g>
</svg></body></html>
